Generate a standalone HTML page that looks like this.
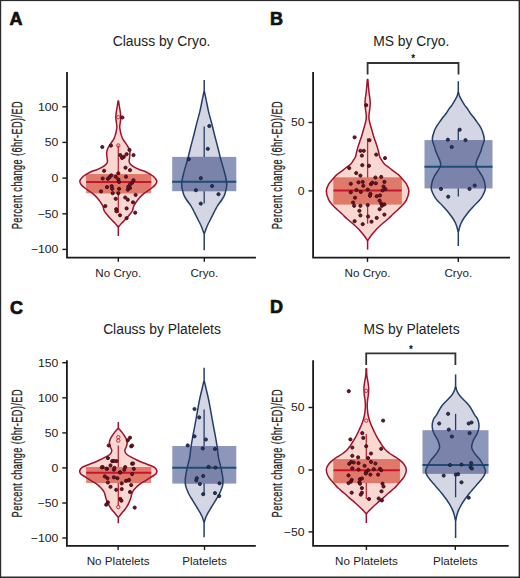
<!DOCTYPE html>
<html><head><meta charset="utf-8"><style>
html,body{margin:0;padding:0;background:#fff;}
body{width:520px;height:578px;overflow:hidden;}
svg{display:block;}
text{font-family:"Liberation Sans",sans-serif;fill:#222222;}
.lt{font-size:18px;font-weight:bold;fill:#111;stroke:#111;stroke-width:0.7px;}
.ti{font-size:13.85px;}
.tk{font-size:11px;}
.xl{font-size:11px;}
.yt{font-size:14px;stroke:#222;stroke-width:0.3px;}
.ast{font-size:10px;font-weight:bold;fill:#111;}
</style></head><body>
<svg width="520" height="578" viewBox="0 0 520 578">
<rect x="0" y="0" width="520" height="578" fill="#fff"/>

<text x="9.6" y="24.5" class="lt">A</text>
<text x="269.9" y="24.5" class="lt">B</text>
<text x="9.9" y="313.6" class="lt">C</text>
<text x="269.9" y="313.2" class="lt">D</text>
<text x="161.6" y="45.7" text-anchor="middle" class="ti">Clauss by Cryo.</text>
<text x="411.3" y="46.2" text-anchor="middle" class="ti">MS by Cryo.</text>
<text x="162" y="333.9" text-anchor="middle" class="ti">Clauss by Platelets</text>
<text x="411.5" y="334.2" text-anchor="middle" class="ti">MS by Platelets</text>

<path d="M67,72 V257.6 H255.9" fill="none" stroke="#1a1a1a" stroke-width="1.8"/>
<line x1="62.4" y1="106.8" x2="67" y2="106.8" stroke="#1a1a1a" stroke-width="1.4"/>
<text transform="translate(58.40,110.70) scale(1.11,1)" text-anchor="end" class="tk">100</text>
<line x1="62.4" y1="142.4" x2="67" y2="142.4" stroke="#1a1a1a" stroke-width="1.4"/>
<text transform="translate(58.40,146.30) scale(1.11,1)" text-anchor="end" class="tk">50</text>
<line x1="62.4" y1="178.1" x2="67" y2="178.1" stroke="#1a1a1a" stroke-width="1.4"/>
<text transform="translate(58.40,182.00) scale(1.11,1)" text-anchor="end" class="tk">0</text>
<line x1="62.4" y1="213.8" x2="67" y2="213.8" stroke="#1a1a1a" stroke-width="1.4"/>
<text transform="translate(58.40,217.70) scale(1.11,1)" text-anchor="end" class="tk">−50</text>
<line x1="62.4" y1="249.4" x2="67" y2="249.4" stroke="#1a1a1a" stroke-width="1.4"/>
<text transform="translate(58.40,253.30) scale(1.11,1)" text-anchor="end" class="tk">−100</text>
<line x1="118.3" y1="257.6" x2="118.3" y2="261.8" stroke="#1a1a1a" stroke-width="1.4"/>
<text transform="translate(118.3,276.70) scale(1.06,1)" text-anchor="middle" class="xl">No Cryo.</text>
<line x1="204.3" y1="257.6" x2="204.3" y2="261.8" stroke="#1a1a1a" stroke-width="1.4"/>
<text transform="translate(204.3,276.70) scale(1.06,1)" text-anchor="middle" class="xl">Cryo.</text>
<text transform="translate(21.9,165.2) rotate(-90) scale(0.66,1)" text-anchor="middle" class="yt" textLength="193.9" lengthAdjust="spacing">Percent change (6hr-ED)/ED</text>
<clipPath id="vc1"><path d="M118.60,101.00 C118.72,101.83 119.02,104.17 119.30,106.00 C119.58,107.83 120.05,110.17 120.30,112.00 C120.55,113.83 120.80,115.33 120.80,117.00 C120.80,118.67 120.48,120.38 120.30,122.00 C120.12,123.62 119.70,125.20 119.70,126.70 C119.70,128.20 120.03,129.62 120.30,131.00 C120.57,132.38 120.92,133.72 121.30,135.00 C121.68,136.28 122.02,137.53 122.60,138.70 C123.18,139.87 124.02,140.85 124.80,142.00 C125.58,143.15 126.58,144.43 127.30,145.60 C128.02,146.77 128.67,147.85 129.10,149.00 C129.53,150.15 129.80,151.17 129.90,152.50 C130.00,153.83 129.83,155.55 129.70,157.00 C129.57,158.45 129.00,160.03 129.10,161.20 C129.20,162.37 129.43,163.00 130.30,164.00 C131.17,165.00 132.80,166.28 134.30,167.20 C135.80,168.12 137.48,168.78 139.30,169.50 C141.12,170.22 143.45,170.75 145.20,171.50 C146.95,172.25 148.37,173.13 149.80,174.00 C151.23,174.87 152.63,175.53 153.80,176.70 C154.97,177.87 156.52,179.70 156.80,181.00 C157.08,182.30 156.33,183.33 155.50,184.50 C154.67,185.67 153.75,186.47 151.80,188.00 C149.85,189.53 145.88,192.03 143.80,193.70 C141.72,195.37 140.58,196.57 139.30,198.00 C138.02,199.43 137.02,200.97 136.10,202.30 C135.18,203.63 134.43,204.55 133.80,206.00 C133.17,207.45 133.05,209.50 132.30,211.00 C131.55,212.50 130.47,213.57 129.30,215.00 C128.13,216.43 126.55,218.27 125.30,219.60 C124.05,220.93 122.87,221.85 121.80,223.00 C120.73,224.15 119.38,225.92 118.90,226.50 L117.70,226.50 C117.22,225.92 115.87,224.15 114.80,223.00 C113.73,221.85 112.55,220.93 111.30,219.60 C110.05,218.27 108.47,216.43 107.30,215.00 C106.13,213.57 105.05,212.50 104.30,211.00 C103.55,209.50 103.43,207.45 102.80,206.00 C102.17,204.55 101.42,203.63 100.50,202.30 C99.58,200.97 98.58,199.43 97.30,198.00 C96.02,196.57 94.88,195.37 92.80,193.70 C90.72,192.03 86.75,189.53 84.80,188.00 C82.85,186.47 81.93,185.67 81.10,184.50 C80.27,183.33 79.52,182.30 79.80,181.00 C80.08,179.70 81.63,177.87 82.80,176.70 C83.97,175.53 85.37,174.87 86.80,174.00 C88.23,173.13 89.65,172.25 91.40,171.50 C93.15,170.75 95.48,170.22 97.30,169.50 C99.12,168.78 100.80,168.12 102.30,167.20 C103.80,166.28 105.43,165.00 106.30,164.00 C107.17,163.00 107.40,162.37 107.50,161.20 C107.60,160.03 107.03,158.45 106.90,157.00 C106.77,155.55 106.60,153.83 106.70,152.50 C106.80,151.17 107.07,150.15 107.50,149.00 C107.93,147.85 108.58,146.77 109.30,145.60 C110.02,144.43 111.02,143.15 111.80,142.00 C112.58,140.85 113.42,139.87 114.00,138.70 C114.58,137.53 114.92,136.28 115.30,135.00 C115.68,133.72 116.03,132.38 116.30,131.00 C116.57,129.62 116.90,128.20 116.90,126.70 C116.90,125.20 116.48,123.62 116.30,122.00 C116.12,120.38 115.80,118.67 115.80,117.00 C115.80,115.33 116.05,113.83 116.30,112.00 C116.55,110.17 117.02,107.83 117.30,106.00 C117.58,104.17 117.88,101.83 118.00,101.00 Z"/></clipPath>
<path d="M118.60,101.00 C118.72,101.83 119.02,104.17 119.30,106.00 C119.58,107.83 120.05,110.17 120.30,112.00 C120.55,113.83 120.80,115.33 120.80,117.00 C120.80,118.67 120.48,120.38 120.30,122.00 C120.12,123.62 119.70,125.20 119.70,126.70 C119.70,128.20 120.03,129.62 120.30,131.00 C120.57,132.38 120.92,133.72 121.30,135.00 C121.68,136.28 122.02,137.53 122.60,138.70 C123.18,139.87 124.02,140.85 124.80,142.00 C125.58,143.15 126.58,144.43 127.30,145.60 C128.02,146.77 128.67,147.85 129.10,149.00 C129.53,150.15 129.80,151.17 129.90,152.50 C130.00,153.83 129.83,155.55 129.70,157.00 C129.57,158.45 129.00,160.03 129.10,161.20 C129.20,162.37 129.43,163.00 130.30,164.00 C131.17,165.00 132.80,166.28 134.30,167.20 C135.80,168.12 137.48,168.78 139.30,169.50 C141.12,170.22 143.45,170.75 145.20,171.50 C146.95,172.25 148.37,173.13 149.80,174.00 C151.23,174.87 152.63,175.53 153.80,176.70 C154.97,177.87 156.52,179.70 156.80,181.00 C157.08,182.30 156.33,183.33 155.50,184.50 C154.67,185.67 153.75,186.47 151.80,188.00 C149.85,189.53 145.88,192.03 143.80,193.70 C141.72,195.37 140.58,196.57 139.30,198.00 C138.02,199.43 137.02,200.97 136.10,202.30 C135.18,203.63 134.43,204.55 133.80,206.00 C133.17,207.45 133.05,209.50 132.30,211.00 C131.55,212.50 130.47,213.57 129.30,215.00 C128.13,216.43 126.55,218.27 125.30,219.60 C124.05,220.93 122.87,221.85 121.80,223.00 C120.73,224.15 119.38,225.92 118.90,226.50 L117.70,226.50 C117.22,225.92 115.87,224.15 114.80,223.00 C113.73,221.85 112.55,220.93 111.30,219.60 C110.05,218.27 108.47,216.43 107.30,215.00 C106.13,213.57 105.05,212.50 104.30,211.00 C103.55,209.50 103.43,207.45 102.80,206.00 C102.17,204.55 101.42,203.63 100.50,202.30 C99.58,200.97 98.58,199.43 97.30,198.00 C96.02,196.57 94.88,195.37 92.80,193.70 C90.72,192.03 86.75,189.53 84.80,188.00 C82.85,186.47 81.93,185.67 81.10,184.50 C80.27,183.33 79.52,182.30 79.80,181.00 C80.08,179.70 81.63,177.87 82.80,176.70 C83.97,175.53 85.37,174.87 86.80,174.00 C88.23,173.13 89.65,172.25 91.40,171.50 C93.15,170.75 95.48,170.22 97.30,169.50 C99.12,168.78 100.80,168.12 102.30,167.20 C103.80,166.28 105.43,165.00 106.30,164.00 C107.17,163.00 107.40,162.37 107.50,161.20 C107.60,160.03 107.03,158.45 106.90,157.00 C106.77,155.55 106.60,153.83 106.70,152.50 C106.80,151.17 107.07,150.15 107.50,149.00 C107.93,147.85 108.58,146.77 109.30,145.60 C110.02,144.43 111.02,143.15 111.80,142.00 C112.58,140.85 113.42,139.87 114.00,138.70 C114.58,137.53 114.92,136.28 115.30,135.00 C115.68,133.72 116.03,132.38 116.30,131.00 C116.57,129.62 116.90,128.20 116.90,126.70 C116.90,125.20 116.48,123.62 116.30,122.00 C116.12,120.38 115.80,118.67 115.80,117.00 C115.80,115.33 116.05,113.83 116.30,112.00 C116.55,110.17 117.02,107.83 117.30,106.00 C117.58,104.17 117.88,101.83 118.00,101.00 Z" fill="#f8d8d0" stroke="none"/>
<rect x="86.2" y="174.2" width="65.00" height="19.10" fill="#e38b80"/>
<rect x="86.2" y="174.2" width="65.00" height="19.10" fill="#df7a6b" clip-path="url(#vc1)"/>
<line x1="118.3" y1="145.5" x2="118.3" y2="174.2" stroke="#c0283a" stroke-width="1.3"/>
<line x1="118.3" y1="193.3" x2="118.3" y2="212.7" stroke="#c0283a" stroke-width="1.3"/>
<line x1="86.2" y1="182.0" x2="151.2" y2="182.0" stroke="#c8142e" stroke-width="2"/>
<path d="M118.60,101.00 C118.72,101.83 119.02,104.17 119.30,106.00 C119.58,107.83 120.05,110.17 120.30,112.00 C120.55,113.83 120.80,115.33 120.80,117.00 C120.80,118.67 120.48,120.38 120.30,122.00 C120.12,123.62 119.70,125.20 119.70,126.70 C119.70,128.20 120.03,129.62 120.30,131.00 C120.57,132.38 120.92,133.72 121.30,135.00 C121.68,136.28 122.02,137.53 122.60,138.70 C123.18,139.87 124.02,140.85 124.80,142.00 C125.58,143.15 126.58,144.43 127.30,145.60 C128.02,146.77 128.67,147.85 129.10,149.00 C129.53,150.15 129.80,151.17 129.90,152.50 C130.00,153.83 129.83,155.55 129.70,157.00 C129.57,158.45 129.00,160.03 129.10,161.20 C129.20,162.37 129.43,163.00 130.30,164.00 C131.17,165.00 132.80,166.28 134.30,167.20 C135.80,168.12 137.48,168.78 139.30,169.50 C141.12,170.22 143.45,170.75 145.20,171.50 C146.95,172.25 148.37,173.13 149.80,174.00 C151.23,174.87 152.63,175.53 153.80,176.70 C154.97,177.87 156.52,179.70 156.80,181.00 C157.08,182.30 156.33,183.33 155.50,184.50 C154.67,185.67 153.75,186.47 151.80,188.00 C149.85,189.53 145.88,192.03 143.80,193.70 C141.72,195.37 140.58,196.57 139.30,198.00 C138.02,199.43 137.02,200.97 136.10,202.30 C135.18,203.63 134.43,204.55 133.80,206.00 C133.17,207.45 133.05,209.50 132.30,211.00 C131.55,212.50 130.47,213.57 129.30,215.00 C128.13,216.43 126.55,218.27 125.30,219.60 C124.05,220.93 122.87,221.85 121.80,223.00 C120.73,224.15 119.38,225.92 118.90,226.50 L117.70,226.50 C117.22,225.92 115.87,224.15 114.80,223.00 C113.73,221.85 112.55,220.93 111.30,219.60 C110.05,218.27 108.47,216.43 107.30,215.00 C106.13,213.57 105.05,212.50 104.30,211.00 C103.55,209.50 103.43,207.45 102.80,206.00 C102.17,204.55 101.42,203.63 100.50,202.30 C99.58,200.97 98.58,199.43 97.30,198.00 C96.02,196.57 94.88,195.37 92.80,193.70 C90.72,192.03 86.75,189.53 84.80,188.00 C82.85,186.47 81.93,185.67 81.10,184.50 C80.27,183.33 79.52,182.30 79.80,181.00 C80.08,179.70 81.63,177.87 82.80,176.70 C83.97,175.53 85.37,174.87 86.80,174.00 C88.23,173.13 89.65,172.25 91.40,171.50 C93.15,170.75 95.48,170.22 97.30,169.50 C99.12,168.78 100.80,168.12 102.30,167.20 C103.80,166.28 105.43,165.00 106.30,164.00 C107.17,163.00 107.40,162.37 107.50,161.20 C107.60,160.03 107.03,158.45 106.90,157.00 C106.77,155.55 106.60,153.83 106.70,152.50 C106.80,151.17 107.07,150.15 107.50,149.00 C107.93,147.85 108.58,146.77 109.30,145.60 C110.02,144.43 111.02,143.15 111.80,142.00 C112.58,140.85 113.42,139.87 114.00,138.70 C114.58,137.53 114.92,136.28 115.30,135.00 C115.68,133.72 116.03,132.38 116.30,131.00 C116.57,129.62 116.90,128.20 116.90,126.70 C116.90,125.20 116.48,123.62 116.30,122.00 C116.12,120.38 115.80,118.67 115.80,117.00 C115.80,115.33 116.05,113.83 116.30,112.00 C116.55,110.17 117.02,107.83 117.30,106.00 C117.58,104.17 117.88,101.83 118.00,101.00 Z" fill="none" stroke="#a0112e" stroke-width="1.5" stroke-linejoin="round"/>
<line x1="118.3" y1="226.5" x2="118.3" y2="236" stroke="#a0112e" stroke-width="1.5"/>
<circle cx="118.3" cy="145.5" r="1.7" fill="none" stroke="#c8142e" stroke-width="0.9"/>
<circle cx="118.3" cy="117.2" r="1.7" fill="none" stroke="#c8142e" stroke-width="0.9"/>
<circle cx="102.3" cy="147.0" r="1.6" fill="#6a1626" stroke="#3f0610" stroke-width="0.85"/>
<circle cx="111.0" cy="145.6" r="1.6" fill="#6a1626" stroke="#3f0610" stroke-width="0.85"/>
<circle cx="129.5" cy="149.9" r="1.6" fill="#6a1626" stroke="#3f0610" stroke-width="0.85"/>
<circle cx="133.5" cy="155.1" r="1.6" fill="#6a1626" stroke="#3f0610" stroke-width="0.85"/>
<circle cx="126.6" cy="154.2" r="1.6" fill="#6a1626" stroke="#3f0610" stroke-width="0.85"/>
<circle cx="123.8" cy="156.8" r="1.6" fill="#6a1626" stroke="#3f0610" stroke-width="0.85"/>
<circle cx="122.1" cy="158.0" r="1.6" fill="#6a1626" stroke="#3f0610" stroke-width="0.85"/>
<circle cx="120.3" cy="155.1" r="1.6" fill="#6a1626" stroke="#3f0610" stroke-width="0.85"/>
<circle cx="125.5" cy="167.7" r="1.6" fill="#6a1626" stroke="#3f0610" stroke-width="0.85"/>
<circle cx="130.0" cy="170.2" r="1.6" fill="#6a1626" stroke="#3f0610" stroke-width="0.85"/>
<circle cx="104.1" cy="170.8" r="1.6" fill="#6a1626" stroke="#3f0610" stroke-width="0.85"/>
<circle cx="118.3" cy="173.3" r="1.6" fill="#6a1626" stroke="#3f0610" stroke-width="0.85"/>
<circle cx="111.3" cy="175.3" r="1.6" fill="#6a1626" stroke="#3f0610" stroke-width="0.85"/>
<circle cx="115.7" cy="176.7" r="1.6" fill="#6a1626" stroke="#3f0610" stroke-width="0.85"/>
<circle cx="126.0" cy="176.7" r="1.6" fill="#6a1626" stroke="#3f0610" stroke-width="0.85"/>
<circle cx="102.7" cy="178.5" r="1.6" fill="#6a1626" stroke="#3f0610" stroke-width="0.85"/>
<circle cx="107.9" cy="178.8" r="1.6" fill="#6a1626" stroke="#3f0610" stroke-width="0.85"/>
<circle cx="109.6" cy="177.1" r="1.6" fill="#6a1626" stroke="#3f0610" stroke-width="0.85"/>
<circle cx="118.3" cy="179.3" r="1.6" fill="#6a1626" stroke="#3f0610" stroke-width="0.85"/>
<circle cx="119.1" cy="181.9" r="1.6" fill="#6a1626" stroke="#3f0610" stroke-width="0.85"/>
<circle cx="133.5" cy="180.2" r="1.6" fill="#6a1626" stroke="#3f0610" stroke-width="0.85"/>
<circle cx="132.1" cy="182.8" r="1.6" fill="#6a1626" stroke="#3f0610" stroke-width="0.85"/>
<circle cx="130.0" cy="184.5" r="1.6" fill="#6a1626" stroke="#3f0610" stroke-width="0.85"/>
<circle cx="127.8" cy="189.7" r="1.6" fill="#6a1626" stroke="#3f0610" stroke-width="0.85"/>
<circle cx="130.0" cy="188.0" r="1.6" fill="#6a1626" stroke="#3f0610" stroke-width="0.85"/>
<circle cx="107.0" cy="187.1" r="1.6" fill="#6a1626" stroke="#3f0610" stroke-width="0.85"/>
<circle cx="111.7" cy="186.2" r="1.6" fill="#6a1626" stroke="#3f0610" stroke-width="0.85"/>
<circle cx="112.2" cy="188.8" r="1.6" fill="#6a1626" stroke="#3f0610" stroke-width="0.85"/>
<circle cx="101.0" cy="191.4" r="1.6" fill="#6a1626" stroke="#3f0610" stroke-width="0.85"/>
<circle cx="119.1" cy="188.8" r="1.6" fill="#6a1626" stroke="#3f0610" stroke-width="0.85"/>
<circle cx="112.7" cy="193.2" r="1.6" fill="#6a1626" stroke="#3f0610" stroke-width="0.85"/>
<circle cx="135.6" cy="194.9" r="1.6" fill="#6a1626" stroke="#3f0610" stroke-width="0.85"/>
<circle cx="118.3" cy="193.2" r="1.6" fill="#6a1626" stroke="#3f0610" stroke-width="0.85"/>
<circle cx="115.7" cy="198.8" r="1.6" fill="#6a1626" stroke="#3f0610" stroke-width="0.85"/>
<circle cx="125.2" cy="197.5" r="1.6" fill="#6a1626" stroke="#3f0610" stroke-width="0.85"/>
<circle cx="127.8" cy="199.7" r="1.6" fill="#6a1626" stroke="#3f0610" stroke-width="0.85"/>
<circle cx="133.0" cy="202.3" r="1.6" fill="#6a1626" stroke="#3f0610" stroke-width="0.85"/>
<circle cx="105.3" cy="206.1" r="1.6" fill="#6a1626" stroke="#3f0610" stroke-width="0.85"/>
<circle cx="126.6" cy="208.4" r="1.6" fill="#6a1626" stroke="#3f0610" stroke-width="0.85"/>
<circle cx="116.2" cy="209.2" r="1.6" fill="#6a1626" stroke="#3f0610" stroke-width="0.85"/>
<circle cx="116.5" cy="211.3" r="1.6" fill="#6a1626" stroke="#3f0610" stroke-width="0.85"/>
<circle cx="120.0" cy="215.3" r="1.6" fill="#6a1626" stroke="#3f0610" stroke-width="0.85"/>
<circle cx="135.2" cy="212.7" r="1.6" fill="#6a1626" stroke="#3f0610" stroke-width="0.85"/>
<circle cx="126.6" cy="218.2" r="1.6" fill="#6a1626" stroke="#3f0610" stroke-width="0.85"/>
<circle cx="128.3" cy="186.7" r="1.6" fill="#6a1626" stroke="#3f0610" stroke-width="0.85"/>
<circle cx="122.4" cy="117.5" r="1.6" fill="#6a1626" stroke="#3f0610" stroke-width="0.85"/>
<clipPath id="vc2"><path d="M204.50,92.00 C204.75,93.20 205.33,95.98 206.00,99.20 C206.67,102.42 207.55,107.27 208.50,111.30 C209.45,115.33 210.67,119.37 211.70,123.40 C212.73,127.43 213.67,131.45 214.70,135.50 C215.73,139.55 216.87,143.65 217.90,147.70 C218.93,151.75 219.82,155.77 220.90,159.80 C221.98,163.83 223.42,167.87 224.40,171.90 C225.38,175.93 226.70,180.37 226.80,184.00 C226.90,187.63 225.85,191.03 225.00,193.70 C224.15,196.37 222.95,197.98 221.70,200.00 C220.45,202.02 218.58,204.13 217.50,205.80 C216.42,207.47 216.00,208.47 215.20,210.00 C214.40,211.53 213.53,213.33 212.70,215.00 C211.87,216.67 211.12,218.17 210.20,220.00 C209.28,221.83 208.13,223.83 207.20,226.00 C206.27,228.17 205.03,231.83 204.60,233.00 L203.80,233.00 C203.37,231.83 202.13,228.17 201.20,226.00 C200.27,223.83 199.12,221.83 198.20,220.00 C197.28,218.17 196.53,216.67 195.70,215.00 C194.87,213.33 194.00,211.53 193.20,210.00 C192.40,208.47 191.98,207.47 190.90,205.80 C189.82,204.13 187.95,202.02 186.70,200.00 C185.45,197.98 184.25,196.37 183.40,193.70 C182.55,191.03 181.50,187.63 181.60,184.00 C181.70,180.37 183.02,175.93 184.00,171.90 C184.98,167.87 186.42,163.83 187.50,159.80 C188.58,155.77 189.47,151.75 190.50,147.70 C191.53,143.65 192.67,139.55 193.70,135.50 C194.73,131.45 195.67,127.43 196.70,123.40 C197.73,119.37 198.95,115.33 199.90,111.30 C200.85,107.27 201.73,102.42 202.40,99.20 C203.07,95.98 203.65,93.20 203.90,92.00 Z"/></clipPath>
<path d="M204.50,92.00 C204.75,93.20 205.33,95.98 206.00,99.20 C206.67,102.42 207.55,107.27 208.50,111.30 C209.45,115.33 210.67,119.37 211.70,123.40 C212.73,127.43 213.67,131.45 214.70,135.50 C215.73,139.55 216.87,143.65 217.90,147.70 C218.93,151.75 219.82,155.77 220.90,159.80 C221.98,163.83 223.42,167.87 224.40,171.90 C225.38,175.93 226.70,180.37 226.80,184.00 C226.90,187.63 225.85,191.03 225.00,193.70 C224.15,196.37 222.95,197.98 221.70,200.00 C220.45,202.02 218.58,204.13 217.50,205.80 C216.42,207.47 216.00,208.47 215.20,210.00 C214.40,211.53 213.53,213.33 212.70,215.00 C211.87,216.67 211.12,218.17 210.20,220.00 C209.28,221.83 208.13,223.83 207.20,226.00 C206.27,228.17 205.03,231.83 204.60,233.00 L203.80,233.00 C203.37,231.83 202.13,228.17 201.20,226.00 C200.27,223.83 199.12,221.83 198.20,220.00 C197.28,218.17 196.53,216.67 195.70,215.00 C194.87,213.33 194.00,211.53 193.20,210.00 C192.40,208.47 191.98,207.47 190.90,205.80 C189.82,204.13 187.95,202.02 186.70,200.00 C185.45,197.98 184.25,196.37 183.40,193.70 C182.55,191.03 181.50,187.63 181.60,184.00 C181.70,180.37 183.02,175.93 184.00,171.90 C184.98,167.87 186.42,163.83 187.50,159.80 C188.58,155.77 189.47,151.75 190.50,147.70 C191.53,143.65 192.67,139.55 193.70,135.50 C194.73,131.45 195.67,127.43 196.70,123.40 C197.73,119.37 198.95,115.33 199.90,111.30 C200.85,107.27 201.73,102.42 202.40,99.20 C203.07,95.98 203.65,93.20 203.90,92.00 Z" fill="#d4d6e4" stroke="none"/>
<rect x="172.2" y="156.9" width="64.10" height="34.30" fill="#8d97ba"/>
<rect x="172.2" y="156.9" width="64.10" height="34.30" fill="#7b83ab" clip-path="url(#vc2)"/>
<line x1="204.2" y1="126.5" x2="204.2" y2="156.9" stroke="#243e68" stroke-width="1.3"/>
<line x1="204.2" y1="191.2" x2="204.2" y2="203.6" stroke="#243e68" stroke-width="1.3"/>
<line x1="172.2" y1="181.8" x2="236.3" y2="181.8" stroke="#1d4d74" stroke-width="2"/>
<path d="M204.50,92.00 C204.75,93.20 205.33,95.98 206.00,99.20 C206.67,102.42 207.55,107.27 208.50,111.30 C209.45,115.33 210.67,119.37 211.70,123.40 C212.73,127.43 213.67,131.45 214.70,135.50 C215.73,139.55 216.87,143.65 217.90,147.70 C218.93,151.75 219.82,155.77 220.90,159.80 C221.98,163.83 223.42,167.87 224.40,171.90 C225.38,175.93 226.70,180.37 226.80,184.00 C226.90,187.63 225.85,191.03 225.00,193.70 C224.15,196.37 222.95,197.98 221.70,200.00 C220.45,202.02 218.58,204.13 217.50,205.80 C216.42,207.47 216.00,208.47 215.20,210.00 C214.40,211.53 213.53,213.33 212.70,215.00 C211.87,216.67 211.12,218.17 210.20,220.00 C209.28,221.83 208.13,223.83 207.20,226.00 C206.27,228.17 205.03,231.83 204.60,233.00 L203.80,233.00 C203.37,231.83 202.13,228.17 201.20,226.00 C200.27,223.83 199.12,221.83 198.20,220.00 C197.28,218.17 196.53,216.67 195.70,215.00 C194.87,213.33 194.00,211.53 193.20,210.00 C192.40,208.47 191.98,207.47 190.90,205.80 C189.82,204.13 187.95,202.02 186.70,200.00 C185.45,197.98 184.25,196.37 183.40,193.70 C182.55,191.03 181.50,187.63 181.60,184.00 C181.70,180.37 183.02,175.93 184.00,171.90 C184.98,167.87 186.42,163.83 187.50,159.80 C188.58,155.77 189.47,151.75 190.50,147.70 C191.53,143.65 192.67,139.55 193.70,135.50 C194.73,131.45 195.67,127.43 196.70,123.40 C197.73,119.37 198.95,115.33 199.90,111.30 C200.85,107.27 201.73,102.42 202.40,99.20 C203.07,95.98 203.65,93.20 203.90,92.00 Z" fill="none" stroke="#243e68" stroke-width="1.5" stroke-linejoin="round"/>
<line x1="204.2" y1="80" x2="204.2" y2="92" stroke="#243e68" stroke-width="1.5"/>
<line x1="204.2" y1="233" x2="204.2" y2="250.2" stroke="#243e68" stroke-width="1.5"/>
<circle cx="209.3" cy="126.0" r="1.6" fill="#2a3658" stroke="#141d36" stroke-width="0.85"/>
<circle cx="207.8" cy="148.8" r="1.6" fill="#2a3658" stroke="#141d36" stroke-width="0.85"/>
<circle cx="188.8" cy="159.2" r="1.6" fill="#2a3658" stroke="#141d36" stroke-width="0.85"/>
<circle cx="200.8" cy="178.2" r="1.6" fill="#2a3658" stroke="#141d36" stroke-width="0.85"/>
<circle cx="212.1" cy="186.0" r="1.6" fill="#2a3658" stroke="#141d36" stroke-width="0.85"/>
<circle cx="195.9" cy="190.2" r="1.6" fill="#2a3658" stroke="#141d36" stroke-width="0.85"/>
<circle cx="218.5" cy="194.2" r="1.6" fill="#2a3658" stroke="#141d36" stroke-width="0.85"/>
<circle cx="200.8" cy="203.6" r="1.6" fill="#2a3658" stroke="#141d36" stroke-width="0.85"/>
<path d="M313.1,72 V257.7 H510" fill="none" stroke="#1a1a1a" stroke-width="1.8"/>
<line x1="308.5" y1="122.5" x2="313.1" y2="122.5" stroke="#1a1a1a" stroke-width="1.4"/>
<text transform="translate(304.50,126.40) scale(1.11,1)" text-anchor="end" class="tk">50</text>
<line x1="308.5" y1="190.9" x2="313.1" y2="190.9" stroke="#1a1a1a" stroke-width="1.4"/>
<text transform="translate(304.50,194.80) scale(1.11,1)" text-anchor="end" class="tk">0</text>
<line x1="367.5" y1="257.7" x2="367.5" y2="261.9" stroke="#1a1a1a" stroke-width="1.4"/>
<text transform="translate(367.5,276.80) scale(1.06,1)" text-anchor="middle" class="xl">No Cryo.</text>
<line x1="458.3" y1="257.7" x2="458.3" y2="261.9" stroke="#1a1a1a" stroke-width="1.4"/>
<text transform="translate(458.3,276.80) scale(1.06,1)" text-anchor="middle" class="xl">Cryo.</text>
<text transform="translate(282,165.2) rotate(-90) scale(0.66,1)" text-anchor="middle" class="yt" textLength="193.9" lengthAdjust="spacing">Percent change (6hr-ED)/ED</text>
<clipPath id="vc3"><path d="M367.90,79.60 C367.98,80.67 368.20,83.77 368.40,86.00 C368.60,88.23 368.85,90.87 369.10,93.00 C369.35,95.13 369.72,97.07 369.90,98.80 C370.08,100.53 370.22,101.78 370.20,103.40 C370.18,105.02 369.98,106.73 369.80,108.50 C369.62,110.27 369.25,112.42 369.10,114.00 C368.95,115.58 368.82,116.67 368.90,118.00 C368.98,119.33 369.32,120.70 369.60,122.00 C369.88,123.30 370.18,124.30 370.60,125.80 C371.02,127.30 371.55,129.08 372.10,131.00 C372.65,132.92 373.32,135.47 373.90,137.30 C374.48,139.13 375.05,140.40 375.60,142.00 C376.15,143.60 376.70,145.23 377.20,146.90 C377.70,148.57 378.20,150.40 378.60,152.00 C379.00,153.60 379.10,155.17 379.60,156.50 C380.10,157.83 380.77,158.72 381.60,160.00 C382.43,161.28 383.27,162.87 384.60,164.20 C385.93,165.53 387.93,166.72 389.60,168.00 C391.27,169.28 393.13,170.80 394.60,171.90 C396.07,173.00 397.15,173.47 398.40,174.60 C399.65,175.73 400.75,177.10 402.10,178.70 C403.45,180.30 405.37,182.15 406.50,184.20 C407.63,186.25 408.88,188.43 408.90,191.00 C408.92,193.57 407.57,197.35 406.60,199.60 C405.63,201.85 404.47,202.90 403.10,204.50 C401.73,206.10 400.07,207.62 398.40,209.20 C396.73,210.78 394.78,212.40 393.10,214.00 C391.42,215.60 390.05,217.22 388.30,218.80 C386.55,220.38 384.45,221.88 382.60,223.50 C380.75,225.12 378.70,227.00 377.20,228.50 C375.70,230.00 374.70,231.22 373.60,232.50 C372.50,233.78 371.52,234.95 370.60,236.20 C369.68,237.45 368.52,239.37 368.10,240.00 L367.10,240.00 C366.68,239.37 365.52,237.45 364.60,236.20 C363.68,234.95 362.70,233.78 361.60,232.50 C360.50,231.22 359.50,230.00 358.00,228.50 C356.50,227.00 354.45,225.12 352.60,223.50 C350.75,221.88 348.65,220.38 346.90,218.80 C345.15,217.22 343.78,215.60 342.10,214.00 C340.42,212.40 338.47,210.78 336.80,209.20 C335.13,207.62 333.47,206.10 332.10,204.50 C330.73,202.90 329.57,201.85 328.60,199.60 C327.63,197.35 326.28,193.57 326.30,191.00 C326.32,188.43 327.57,186.25 328.70,184.20 C329.83,182.15 331.75,180.30 333.10,178.70 C334.45,177.10 335.55,175.73 336.80,174.60 C338.05,173.47 339.13,173.00 340.60,171.90 C342.07,170.80 343.93,169.28 345.60,168.00 C347.27,166.72 349.27,165.53 350.60,164.20 C351.93,162.87 352.77,161.28 353.60,160.00 C354.43,158.72 355.10,157.83 355.60,156.50 C356.10,155.17 356.20,153.60 356.60,152.00 C357.00,150.40 357.50,148.57 358.00,146.90 C358.50,145.23 359.05,143.60 359.60,142.00 C360.15,140.40 360.72,139.13 361.30,137.30 C361.88,135.47 362.55,132.92 363.10,131.00 C363.65,129.08 364.18,127.30 364.60,125.80 C365.02,124.30 365.32,123.30 365.60,122.00 C365.88,120.70 366.22,119.33 366.30,118.00 C366.38,116.67 366.25,115.58 366.10,114.00 C365.95,112.42 365.58,110.27 365.40,108.50 C365.22,106.73 365.02,105.02 365.00,103.40 C364.98,101.78 365.12,100.53 365.30,98.80 C365.48,97.07 365.85,95.13 366.10,93.00 C366.35,90.87 366.60,88.23 366.80,86.00 C367.00,83.77 367.22,80.67 367.30,79.60 Z"/></clipPath>
<path d="M367.90,79.60 C367.98,80.67 368.20,83.77 368.40,86.00 C368.60,88.23 368.85,90.87 369.10,93.00 C369.35,95.13 369.72,97.07 369.90,98.80 C370.08,100.53 370.22,101.78 370.20,103.40 C370.18,105.02 369.98,106.73 369.80,108.50 C369.62,110.27 369.25,112.42 369.10,114.00 C368.95,115.58 368.82,116.67 368.90,118.00 C368.98,119.33 369.32,120.70 369.60,122.00 C369.88,123.30 370.18,124.30 370.60,125.80 C371.02,127.30 371.55,129.08 372.10,131.00 C372.65,132.92 373.32,135.47 373.90,137.30 C374.48,139.13 375.05,140.40 375.60,142.00 C376.15,143.60 376.70,145.23 377.20,146.90 C377.70,148.57 378.20,150.40 378.60,152.00 C379.00,153.60 379.10,155.17 379.60,156.50 C380.10,157.83 380.77,158.72 381.60,160.00 C382.43,161.28 383.27,162.87 384.60,164.20 C385.93,165.53 387.93,166.72 389.60,168.00 C391.27,169.28 393.13,170.80 394.60,171.90 C396.07,173.00 397.15,173.47 398.40,174.60 C399.65,175.73 400.75,177.10 402.10,178.70 C403.45,180.30 405.37,182.15 406.50,184.20 C407.63,186.25 408.88,188.43 408.90,191.00 C408.92,193.57 407.57,197.35 406.60,199.60 C405.63,201.85 404.47,202.90 403.10,204.50 C401.73,206.10 400.07,207.62 398.40,209.20 C396.73,210.78 394.78,212.40 393.10,214.00 C391.42,215.60 390.05,217.22 388.30,218.80 C386.55,220.38 384.45,221.88 382.60,223.50 C380.75,225.12 378.70,227.00 377.20,228.50 C375.70,230.00 374.70,231.22 373.60,232.50 C372.50,233.78 371.52,234.95 370.60,236.20 C369.68,237.45 368.52,239.37 368.10,240.00 L367.10,240.00 C366.68,239.37 365.52,237.45 364.60,236.20 C363.68,234.95 362.70,233.78 361.60,232.50 C360.50,231.22 359.50,230.00 358.00,228.50 C356.50,227.00 354.45,225.12 352.60,223.50 C350.75,221.88 348.65,220.38 346.90,218.80 C345.15,217.22 343.78,215.60 342.10,214.00 C340.42,212.40 338.47,210.78 336.80,209.20 C335.13,207.62 333.47,206.10 332.10,204.50 C330.73,202.90 329.57,201.85 328.60,199.60 C327.63,197.35 326.28,193.57 326.30,191.00 C326.32,188.43 327.57,186.25 328.70,184.20 C329.83,182.15 331.75,180.30 333.10,178.70 C334.45,177.10 335.55,175.73 336.80,174.60 C338.05,173.47 339.13,173.00 340.60,171.90 C342.07,170.80 343.93,169.28 345.60,168.00 C347.27,166.72 349.27,165.53 350.60,164.20 C351.93,162.87 352.77,161.28 353.60,160.00 C354.43,158.72 355.10,157.83 355.60,156.50 C356.10,155.17 356.20,153.60 356.60,152.00 C357.00,150.40 357.50,148.57 358.00,146.90 C358.50,145.23 359.05,143.60 359.60,142.00 C360.15,140.40 360.72,139.13 361.30,137.30 C361.88,135.47 362.55,132.92 363.10,131.00 C363.65,129.08 364.18,127.30 364.60,125.80 C365.02,124.30 365.32,123.30 365.60,122.00 C365.88,120.70 366.22,119.33 366.30,118.00 C366.38,116.67 366.25,115.58 366.10,114.00 C365.95,112.42 365.58,110.27 365.40,108.50 C365.22,106.73 365.02,105.02 365.00,103.40 C364.98,101.78 365.12,100.53 365.30,98.80 C365.48,97.07 365.85,95.13 366.10,93.00 C366.35,90.87 366.60,88.23 366.80,86.00 C367.00,83.77 367.22,80.67 367.30,79.60 Z" fill="#f8d8d0" stroke="none"/>
<rect x="333.5" y="177.5" width="68.20" height="26.90" fill="#e38b80"/>
<rect x="333.5" y="177.5" width="68.20" height="26.90" fill="#df7a6b" clip-path="url(#vc3)"/>
<line x1="367.6" y1="138.3" x2="367.6" y2="177.5" stroke="#c0283a" stroke-width="1.3"/>
<line x1="367.6" y1="204.4" x2="367.6" y2="223.7" stroke="#c0283a" stroke-width="1.3"/>
<line x1="333.5" y1="190.6" x2="401.7" y2="190.6" stroke="#c8142e" stroke-width="2"/>
<path d="M367.90,79.60 C367.98,80.67 368.20,83.77 368.40,86.00 C368.60,88.23 368.85,90.87 369.10,93.00 C369.35,95.13 369.72,97.07 369.90,98.80 C370.08,100.53 370.22,101.78 370.20,103.40 C370.18,105.02 369.98,106.73 369.80,108.50 C369.62,110.27 369.25,112.42 369.10,114.00 C368.95,115.58 368.82,116.67 368.90,118.00 C368.98,119.33 369.32,120.70 369.60,122.00 C369.88,123.30 370.18,124.30 370.60,125.80 C371.02,127.30 371.55,129.08 372.10,131.00 C372.65,132.92 373.32,135.47 373.90,137.30 C374.48,139.13 375.05,140.40 375.60,142.00 C376.15,143.60 376.70,145.23 377.20,146.90 C377.70,148.57 378.20,150.40 378.60,152.00 C379.00,153.60 379.10,155.17 379.60,156.50 C380.10,157.83 380.77,158.72 381.60,160.00 C382.43,161.28 383.27,162.87 384.60,164.20 C385.93,165.53 387.93,166.72 389.60,168.00 C391.27,169.28 393.13,170.80 394.60,171.90 C396.07,173.00 397.15,173.47 398.40,174.60 C399.65,175.73 400.75,177.10 402.10,178.70 C403.45,180.30 405.37,182.15 406.50,184.20 C407.63,186.25 408.88,188.43 408.90,191.00 C408.92,193.57 407.57,197.35 406.60,199.60 C405.63,201.85 404.47,202.90 403.10,204.50 C401.73,206.10 400.07,207.62 398.40,209.20 C396.73,210.78 394.78,212.40 393.10,214.00 C391.42,215.60 390.05,217.22 388.30,218.80 C386.55,220.38 384.45,221.88 382.60,223.50 C380.75,225.12 378.70,227.00 377.20,228.50 C375.70,230.00 374.70,231.22 373.60,232.50 C372.50,233.78 371.52,234.95 370.60,236.20 C369.68,237.45 368.52,239.37 368.10,240.00 L367.10,240.00 C366.68,239.37 365.52,237.45 364.60,236.20 C363.68,234.95 362.70,233.78 361.60,232.50 C360.50,231.22 359.50,230.00 358.00,228.50 C356.50,227.00 354.45,225.12 352.60,223.50 C350.75,221.88 348.65,220.38 346.90,218.80 C345.15,217.22 343.78,215.60 342.10,214.00 C340.42,212.40 338.47,210.78 336.80,209.20 C335.13,207.62 333.47,206.10 332.10,204.50 C330.73,202.90 329.57,201.85 328.60,199.60 C327.63,197.35 326.28,193.57 326.30,191.00 C326.32,188.43 327.57,186.25 328.70,184.20 C329.83,182.15 331.75,180.30 333.10,178.70 C334.45,177.10 335.55,175.73 336.80,174.60 C338.05,173.47 339.13,173.00 340.60,171.90 C342.07,170.80 343.93,169.28 345.60,168.00 C347.27,166.72 349.27,165.53 350.60,164.20 C351.93,162.87 352.77,161.28 353.60,160.00 C354.43,158.72 355.10,157.83 355.60,156.50 C356.10,155.17 356.20,153.60 356.60,152.00 C357.00,150.40 357.50,148.57 358.00,146.90 C358.50,145.23 359.05,143.60 359.60,142.00 C360.15,140.40 360.72,139.13 361.30,137.30 C361.88,135.47 362.55,132.92 363.10,131.00 C363.65,129.08 364.18,127.30 364.60,125.80 C365.02,124.30 365.32,123.30 365.60,122.00 C365.88,120.70 366.22,119.33 366.30,118.00 C366.38,116.67 366.25,115.58 366.10,114.00 C365.95,112.42 365.58,110.27 365.40,108.50 C365.22,106.73 365.02,105.02 365.00,103.40 C364.98,101.78 365.12,100.53 365.30,98.80 C365.48,97.07 365.85,95.13 366.10,93.00 C366.35,90.87 366.60,88.23 366.80,86.00 C367.00,83.77 367.22,80.67 367.30,79.60 Z" fill="none" stroke="#a0112e" stroke-width="1.5" stroke-linejoin="round"/>
<line x1="367.6" y1="240" x2="367.6" y2="249.6" stroke="#a0112e" stroke-width="1.5"/>
<circle cx="366.2" cy="105.2" r="1.6" fill="#6a1626" stroke="#3f0610" stroke-width="0.85"/>
<circle cx="354.6" cy="137.3" r="1.6" fill="#6a1626" stroke="#3f0610" stroke-width="0.85"/>
<circle cx="369.4" cy="140.2" r="1.6" fill="#6a1626" stroke="#3f0610" stroke-width="0.85"/>
<circle cx="360.4" cy="150.8" r="1.6" fill="#6a1626" stroke="#3f0610" stroke-width="0.85"/>
<circle cx="363.8" cy="150.8" r="1.6" fill="#6a1626" stroke="#3f0610" stroke-width="0.85"/>
<circle cx="361.9" cy="155.6" r="1.6" fill="#6a1626" stroke="#3f0610" stroke-width="0.85"/>
<circle cx="376.2" cy="154.6" r="1.6" fill="#6a1626" stroke="#3f0610" stroke-width="0.85"/>
<circle cx="385.0" cy="158.1" r="1.6" fill="#6a1626" stroke="#3f0610" stroke-width="0.85"/>
<circle cx="362.3" cy="165.2" r="1.6" fill="#6a1626" stroke="#3f0610" stroke-width="0.85"/>
<circle cx="369.0" cy="165.8" r="1.6" fill="#6a1626" stroke="#3f0610" stroke-width="0.85"/>
<circle cx="349.2" cy="168.1" r="1.6" fill="#6a1626" stroke="#3f0610" stroke-width="0.85"/>
<circle cx="356.2" cy="173.1" r="1.6" fill="#6a1626" stroke="#3f0610" stroke-width="0.85"/>
<circle cx="360.4" cy="175.6" r="1.6" fill="#6a1626" stroke="#3f0610" stroke-width="0.85"/>
<circle cx="375.4" cy="177.5" r="1.6" fill="#6a1626" stroke="#3f0610" stroke-width="0.85"/>
<circle cx="381.2" cy="176.9" r="1.6" fill="#6a1626" stroke="#3f0610" stroke-width="0.85"/>
<circle cx="350.8" cy="183.8" r="1.6" fill="#6a1626" stroke="#3f0610" stroke-width="0.85"/>
<circle cx="358.5" cy="182.3" r="1.6" fill="#6a1626" stroke="#3f0610" stroke-width="0.85"/>
<circle cx="362.7" cy="181.9" r="1.6" fill="#6a1626" stroke="#3f0610" stroke-width="0.85"/>
<circle cx="363.3" cy="185.8" r="1.6" fill="#6a1626" stroke="#3f0610" stroke-width="0.85"/>
<circle cx="371.0" cy="184.2" r="1.6" fill="#6a1626" stroke="#3f0610" stroke-width="0.85"/>
<circle cx="372.3" cy="182.7" r="1.6" fill="#6a1626" stroke="#3f0610" stroke-width="0.85"/>
<circle cx="375.8" cy="183.3" r="1.6" fill="#6a1626" stroke="#3f0610" stroke-width="0.85"/>
<circle cx="384.4" cy="181.9" r="1.6" fill="#6a1626" stroke="#3f0610" stroke-width="0.85"/>
<circle cx="383.5" cy="186.5" r="1.6" fill="#6a1626" stroke="#3f0610" stroke-width="0.85"/>
<circle cx="385.4" cy="189.0" r="1.6" fill="#6a1626" stroke="#3f0610" stroke-width="0.85"/>
<circle cx="350.8" cy="192.3" r="1.6" fill="#6a1626" stroke="#3f0610" stroke-width="0.85"/>
<circle cx="356.5" cy="190.0" r="1.6" fill="#6a1626" stroke="#3f0610" stroke-width="0.85"/>
<circle cx="360.8" cy="191.9" r="1.6" fill="#6a1626" stroke="#3f0610" stroke-width="0.85"/>
<circle cx="367.7" cy="189.6" r="1.6" fill="#6a1626" stroke="#3f0610" stroke-width="0.85"/>
<circle cx="370.4" cy="193.8" r="1.6" fill="#6a1626" stroke="#3f0610" stroke-width="0.85"/>
<circle cx="370.0" cy="195.8" r="1.6" fill="#6a1626" stroke="#3f0610" stroke-width="0.85"/>
<circle cx="376.7" cy="196.2" r="1.6" fill="#6a1626" stroke="#3f0610" stroke-width="0.85"/>
<circle cx="380.0" cy="195.4" r="1.6" fill="#6a1626" stroke="#3f0610" stroke-width="0.85"/>
<circle cx="382.5" cy="190.4" r="1.6" fill="#6a1626" stroke="#3f0610" stroke-width="0.85"/>
<circle cx="355.0" cy="197.7" r="1.6" fill="#6a1626" stroke="#3f0610" stroke-width="0.85"/>
<circle cx="353.1" cy="202.5" r="1.6" fill="#6a1626" stroke="#3f0610" stroke-width="0.85"/>
<circle cx="354.2" cy="205.8" r="1.6" fill="#6a1626" stroke="#3f0610" stroke-width="0.85"/>
<circle cx="360.4" cy="205.8" r="1.6" fill="#6a1626" stroke="#3f0610" stroke-width="0.85"/>
<circle cx="367.7" cy="205.0" r="1.6" fill="#6a1626" stroke="#3f0610" stroke-width="0.85"/>
<circle cx="379.6" cy="200.6" r="1.6" fill="#6a1626" stroke="#3f0610" stroke-width="0.85"/>
<circle cx="381.2" cy="203.5" r="1.6" fill="#6a1626" stroke="#3f0610" stroke-width="0.85"/>
<circle cx="381.9" cy="205.8" r="1.6" fill="#6a1626" stroke="#3f0610" stroke-width="0.85"/>
<circle cx="384.4" cy="204.4" r="1.6" fill="#6a1626" stroke="#3f0610" stroke-width="0.85"/>
<circle cx="359.4" cy="210.8" r="1.6" fill="#6a1626" stroke="#3f0610" stroke-width="0.85"/>
<circle cx="360.4" cy="215.4" r="1.6" fill="#6a1626" stroke="#3f0610" stroke-width="0.85"/>
<circle cx="379.6" cy="209.2" r="1.6" fill="#6a1626" stroke="#3f0610" stroke-width="0.85"/>
<circle cx="384.4" cy="214.6" r="1.6" fill="#6a1626" stroke="#3f0610" stroke-width="0.85"/>
<circle cx="368.1" cy="216.5" r="1.6" fill="#6a1626" stroke="#3f0610" stroke-width="0.85"/>
<circle cx="354.6" cy="221.2" r="1.6" fill="#6a1626" stroke="#3f0610" stroke-width="0.85"/>
<circle cx="371.5" cy="221.7" r="1.6" fill="#6a1626" stroke="#3f0610" stroke-width="0.85"/>
<circle cx="376.7" cy="217.9" r="1.6" fill="#6a1626" stroke="#3f0610" stroke-width="0.85"/>
<circle cx="362.7" cy="224.2" r="1.6" fill="#6a1626" stroke="#3f0610" stroke-width="0.85"/>
<clipPath id="vc4"><path d="M458.60,92.50 C458.75,93.08 459.07,94.85 459.50,96.00 C459.93,97.15 460.40,97.97 461.20,99.40 C462.00,100.83 463.28,103.08 464.30,104.60 C465.32,106.12 466.30,107.05 467.30,108.50 C468.30,109.95 469.22,111.80 470.30,113.30 C471.38,114.80 472.70,116.07 473.80,117.50 C474.90,118.93 475.90,120.48 476.90,121.90 C477.90,123.32 478.93,124.55 479.80,126.00 C480.67,127.45 481.35,128.40 482.10,130.60 C482.85,132.80 484.37,136.32 484.30,139.20 C484.23,142.08 482.20,146.10 481.70,147.90 C481.20,149.70 481.82,148.57 481.30,150.00 C480.78,151.43 479.35,154.75 478.60,156.50 C477.85,158.25 477.25,159.13 476.80,160.50 C476.35,161.87 475.82,163.37 475.90,164.70 C475.98,166.03 476.63,167.20 477.30,168.50 C477.97,169.80 479.07,171.17 479.90,172.50 C480.73,173.83 481.57,175.05 482.30,176.50 C483.03,177.95 483.80,179.13 484.30,181.20 C484.80,183.27 485.67,186.32 485.30,188.90 C484.93,191.48 483.18,194.68 482.10,196.70 C481.02,198.72 480.10,199.55 478.80,201.00 C477.50,202.45 475.67,203.98 474.30,205.40 C472.93,206.82 471.82,208.07 470.60,209.50 C469.38,210.93 468.10,212.58 467.00,214.00 C465.90,215.42 464.95,216.55 464.00,218.00 C463.05,219.45 462.02,221.20 461.30,222.70 C460.58,224.20 460.15,225.57 459.70,227.00 C459.25,228.43 458.78,230.58 458.60,231.30 L458.00,231.30 C457.82,230.58 457.35,228.43 456.90,227.00 C456.45,225.57 456.02,224.20 455.30,222.70 C454.58,221.20 453.55,219.45 452.60,218.00 C451.65,216.55 450.70,215.42 449.60,214.00 C448.50,212.58 447.22,210.93 446.00,209.50 C444.78,208.07 443.67,206.82 442.30,205.40 C440.93,203.98 439.10,202.45 437.80,201.00 C436.50,199.55 435.58,198.72 434.50,196.70 C433.42,194.68 431.67,191.48 431.30,188.90 C430.93,186.32 431.80,183.27 432.30,181.20 C432.80,179.13 433.57,177.95 434.30,176.50 C435.03,175.05 435.87,173.83 436.70,172.50 C437.53,171.17 438.63,169.80 439.30,168.50 C439.97,167.20 440.62,166.03 440.70,164.70 C440.78,163.37 440.25,161.87 439.80,160.50 C439.35,159.13 438.75,158.25 438.00,156.50 C437.25,154.75 435.82,151.43 435.30,150.00 C434.78,148.57 435.40,149.70 434.90,147.90 C434.40,146.10 432.37,142.08 432.30,139.20 C432.23,136.32 433.75,132.80 434.50,130.60 C435.25,128.40 435.93,127.45 436.80,126.00 C437.67,124.55 438.70,123.32 439.70,121.90 C440.70,120.48 441.70,118.93 442.80,117.50 C443.90,116.07 445.22,114.80 446.30,113.30 C447.38,111.80 448.30,109.95 449.30,108.50 C450.30,107.05 451.28,106.12 452.30,104.60 C453.32,103.08 454.60,100.83 455.40,99.40 C456.20,97.97 456.67,97.15 457.10,96.00 C457.53,94.85 457.85,93.08 458.00,92.50 Z"/></clipPath>
<path d="M458.60,92.50 C458.75,93.08 459.07,94.85 459.50,96.00 C459.93,97.15 460.40,97.97 461.20,99.40 C462.00,100.83 463.28,103.08 464.30,104.60 C465.32,106.12 466.30,107.05 467.30,108.50 C468.30,109.95 469.22,111.80 470.30,113.30 C471.38,114.80 472.70,116.07 473.80,117.50 C474.90,118.93 475.90,120.48 476.90,121.90 C477.90,123.32 478.93,124.55 479.80,126.00 C480.67,127.45 481.35,128.40 482.10,130.60 C482.85,132.80 484.37,136.32 484.30,139.20 C484.23,142.08 482.20,146.10 481.70,147.90 C481.20,149.70 481.82,148.57 481.30,150.00 C480.78,151.43 479.35,154.75 478.60,156.50 C477.85,158.25 477.25,159.13 476.80,160.50 C476.35,161.87 475.82,163.37 475.90,164.70 C475.98,166.03 476.63,167.20 477.30,168.50 C477.97,169.80 479.07,171.17 479.90,172.50 C480.73,173.83 481.57,175.05 482.30,176.50 C483.03,177.95 483.80,179.13 484.30,181.20 C484.80,183.27 485.67,186.32 485.30,188.90 C484.93,191.48 483.18,194.68 482.10,196.70 C481.02,198.72 480.10,199.55 478.80,201.00 C477.50,202.45 475.67,203.98 474.30,205.40 C472.93,206.82 471.82,208.07 470.60,209.50 C469.38,210.93 468.10,212.58 467.00,214.00 C465.90,215.42 464.95,216.55 464.00,218.00 C463.05,219.45 462.02,221.20 461.30,222.70 C460.58,224.20 460.15,225.57 459.70,227.00 C459.25,228.43 458.78,230.58 458.60,231.30 L458.00,231.30 C457.82,230.58 457.35,228.43 456.90,227.00 C456.45,225.57 456.02,224.20 455.30,222.70 C454.58,221.20 453.55,219.45 452.60,218.00 C451.65,216.55 450.70,215.42 449.60,214.00 C448.50,212.58 447.22,210.93 446.00,209.50 C444.78,208.07 443.67,206.82 442.30,205.40 C440.93,203.98 439.10,202.45 437.80,201.00 C436.50,199.55 435.58,198.72 434.50,196.70 C433.42,194.68 431.67,191.48 431.30,188.90 C430.93,186.32 431.80,183.27 432.30,181.20 C432.80,179.13 433.57,177.95 434.30,176.50 C435.03,175.05 435.87,173.83 436.70,172.50 C437.53,171.17 438.63,169.80 439.30,168.50 C439.97,167.20 440.62,166.03 440.70,164.70 C440.78,163.37 440.25,161.87 439.80,160.50 C439.35,159.13 438.75,158.25 438.00,156.50 C437.25,154.75 435.82,151.43 435.30,150.00 C434.78,148.57 435.40,149.70 434.90,147.90 C434.40,146.10 432.37,142.08 432.30,139.20 C432.23,136.32 433.75,132.80 434.50,130.60 C435.25,128.40 435.93,127.45 436.80,126.00 C437.67,124.55 438.70,123.32 439.70,121.90 C440.70,120.48 441.70,118.93 442.80,117.50 C443.90,116.07 445.22,114.80 446.30,113.30 C447.38,111.80 448.30,109.95 449.30,108.50 C450.30,107.05 451.28,106.12 452.30,104.60 C453.32,103.08 454.60,100.83 455.40,99.40 C456.20,97.97 456.67,97.15 457.10,96.00 C457.53,94.85 457.85,93.08 458.00,92.50 Z" fill="#d4d6e4" stroke="none"/>
<rect x="424.5" y="140.1" width="68.00" height="48.30" fill="#8d97ba"/>
<rect x="424.5" y="140.1" width="68.00" height="48.30" fill="#7b83ab" clip-path="url(#vc4)"/>
<line x1="458.3" y1="130" x2="458.3" y2="140.1" stroke="#243e68" stroke-width="1.3"/>
<line x1="458.3" y1="188.4" x2="458.3" y2="196.4" stroke="#243e68" stroke-width="1.3"/>
<line x1="424.5" y1="166.8" x2="492.5" y2="166.8" stroke="#1d4d74" stroke-width="2"/>
<path d="M458.60,92.50 C458.75,93.08 459.07,94.85 459.50,96.00 C459.93,97.15 460.40,97.97 461.20,99.40 C462.00,100.83 463.28,103.08 464.30,104.60 C465.32,106.12 466.30,107.05 467.30,108.50 C468.30,109.95 469.22,111.80 470.30,113.30 C471.38,114.80 472.70,116.07 473.80,117.50 C474.90,118.93 475.90,120.48 476.90,121.90 C477.90,123.32 478.93,124.55 479.80,126.00 C480.67,127.45 481.35,128.40 482.10,130.60 C482.85,132.80 484.37,136.32 484.30,139.20 C484.23,142.08 482.20,146.10 481.70,147.90 C481.20,149.70 481.82,148.57 481.30,150.00 C480.78,151.43 479.35,154.75 478.60,156.50 C477.85,158.25 477.25,159.13 476.80,160.50 C476.35,161.87 475.82,163.37 475.90,164.70 C475.98,166.03 476.63,167.20 477.30,168.50 C477.97,169.80 479.07,171.17 479.90,172.50 C480.73,173.83 481.57,175.05 482.30,176.50 C483.03,177.95 483.80,179.13 484.30,181.20 C484.80,183.27 485.67,186.32 485.30,188.90 C484.93,191.48 483.18,194.68 482.10,196.70 C481.02,198.72 480.10,199.55 478.80,201.00 C477.50,202.45 475.67,203.98 474.30,205.40 C472.93,206.82 471.82,208.07 470.60,209.50 C469.38,210.93 468.10,212.58 467.00,214.00 C465.90,215.42 464.95,216.55 464.00,218.00 C463.05,219.45 462.02,221.20 461.30,222.70 C460.58,224.20 460.15,225.57 459.70,227.00 C459.25,228.43 458.78,230.58 458.60,231.30 L458.00,231.30 C457.82,230.58 457.35,228.43 456.90,227.00 C456.45,225.57 456.02,224.20 455.30,222.70 C454.58,221.20 453.55,219.45 452.60,218.00 C451.65,216.55 450.70,215.42 449.60,214.00 C448.50,212.58 447.22,210.93 446.00,209.50 C444.78,208.07 443.67,206.82 442.30,205.40 C440.93,203.98 439.10,202.45 437.80,201.00 C436.50,199.55 435.58,198.72 434.50,196.70 C433.42,194.68 431.67,191.48 431.30,188.90 C430.93,186.32 431.80,183.27 432.30,181.20 C432.80,179.13 433.57,177.95 434.30,176.50 C435.03,175.05 435.87,173.83 436.70,172.50 C437.53,171.17 438.63,169.80 439.30,168.50 C439.97,167.20 440.62,166.03 440.70,164.70 C440.78,163.37 440.25,161.87 439.80,160.50 C439.35,159.13 438.75,158.25 438.00,156.50 C437.25,154.75 435.82,151.43 435.30,150.00 C434.78,148.57 435.40,149.70 434.90,147.90 C434.40,146.10 432.37,142.08 432.30,139.20 C432.23,136.32 433.75,132.80 434.50,130.60 C435.25,128.40 435.93,127.45 436.80,126.00 C437.67,124.55 438.70,123.32 439.70,121.90 C440.70,120.48 441.70,118.93 442.80,117.50 C443.90,116.07 445.22,114.80 446.30,113.30 C447.38,111.80 448.30,109.95 449.30,108.50 C450.30,107.05 451.28,106.12 452.30,104.60 C453.32,103.08 454.60,100.83 455.40,99.40 C456.20,97.97 456.67,97.15 457.10,96.00 C457.53,94.85 457.85,93.08 458.00,92.50 Z" fill="none" stroke="#243e68" stroke-width="1.5" stroke-linejoin="round"/>
<line x1="458.3" y1="81.2" x2="458.3" y2="92.5" stroke="#243e68" stroke-width="1.5"/>
<line x1="458.3" y1="231.3" x2="458.3" y2="246" stroke="#243e68" stroke-width="1.5"/>
<circle cx="459.7" cy="129.7" r="1.6" fill="#2a3658" stroke="#141d36" stroke-width="0.85"/>
<circle cx="447.9" cy="139.7" r="1.6" fill="#2a3658" stroke="#141d36" stroke-width="0.85"/>
<circle cx="465.5" cy="140.1" r="1.6" fill="#2a3658" stroke="#141d36" stroke-width="0.85"/>
<circle cx="451.7" cy="147.0" r="1.6" fill="#2a3658" stroke="#141d36" stroke-width="0.85"/>
<circle cx="441.0" cy="188.9" r="1.6" fill="#2a3658" stroke="#141d36" stroke-width="0.85"/>
<circle cx="448.2" cy="196.7" r="1.6" fill="#2a3658" stroke="#141d36" stroke-width="0.85"/>
<circle cx="469.5" cy="188.9" r="1.6" fill="#2a3658" stroke="#141d36" stroke-width="0.85"/>
<circle cx="474.7" cy="185.5" r="1.6" fill="#2a3658" stroke="#141d36" stroke-width="0.85"/>
<path d="M367.6,74.6 V63 H458.5 V74.6" fill="none" stroke="#333" stroke-width="1.8"/>
<text x="413.2" y="62.3" text-anchor="middle" class="ast">*</text>
<path d="M66.9,360.2 V545.8 H255.8" fill="none" stroke="#1a1a1a" stroke-width="1.8"/>
<line x1="62.300000000000004" y1="362.7" x2="66.9" y2="362.7" stroke="#1a1a1a" stroke-width="1.4"/>
<text transform="translate(58.30,366.60) scale(1.11,1)" text-anchor="end" class="tk">150</text>
<line x1="62.300000000000004" y1="397.8" x2="66.9" y2="397.8" stroke="#1a1a1a" stroke-width="1.4"/>
<text transform="translate(58.30,401.70) scale(1.11,1)" text-anchor="end" class="tk">100</text>
<line x1="62.300000000000004" y1="432.9" x2="66.9" y2="432.9" stroke="#1a1a1a" stroke-width="1.4"/>
<text transform="translate(58.30,436.80) scale(1.11,1)" text-anchor="end" class="tk">50</text>
<line x1="62.300000000000004" y1="467.9" x2="66.9" y2="467.9" stroke="#1a1a1a" stroke-width="1.4"/>
<text transform="translate(58.30,471.80) scale(1.11,1)" text-anchor="end" class="tk">0</text>
<line x1="62.300000000000004" y1="503" x2="66.9" y2="503" stroke="#1a1a1a" stroke-width="1.4"/>
<text transform="translate(58.30,506.90) scale(1.11,1)" text-anchor="end" class="tk">−50</text>
<line x1="62.300000000000004" y1="538" x2="66.9" y2="538" stroke="#1a1a1a" stroke-width="1.4"/>
<text transform="translate(58.30,541.90) scale(1.11,1)" text-anchor="end" class="tk">−100</text>
<line x1="118.1" y1="545.8" x2="118.1" y2="550.0" stroke="#1a1a1a" stroke-width="1.4"/>
<text transform="translate(118.1,564.90) scale(1.06,1)" text-anchor="middle" class="xl">No Platelets</text>
<line x1="204.5" y1="545.8" x2="204.5" y2="550.0" stroke="#1a1a1a" stroke-width="1.4"/>
<text transform="translate(204.5,564.90) scale(1.06,1)" text-anchor="middle" class="xl">Platelets</text>
<text transform="translate(21.9,453.4) rotate(-90) scale(0.66,1)" text-anchor="middle" class="yt" textLength="193.9" lengthAdjust="spacing">Percent change (6hr-ED)/ED</text>
<clipPath id="vc5"><path d="M118.70,428.60 C119.25,429.23 120.90,430.97 122.00,432.40 C123.10,433.83 124.43,435.60 125.30,437.20 C126.17,438.80 127.03,440.40 127.20,442.00 C127.37,443.60 126.70,445.35 126.30,446.80 C125.90,448.25 124.70,449.42 124.80,450.70 C124.90,451.98 125.73,453.38 126.90,454.50 C128.07,455.62 130.02,456.43 131.80,457.40 C133.58,458.37 135.93,459.50 137.60,460.30 C139.27,461.10 140.02,461.47 141.80,462.20 C143.58,462.93 146.23,463.88 148.30,464.70 C150.37,465.52 152.78,466.13 154.20,467.10 C155.62,468.07 156.53,469.35 156.80,470.50 C157.07,471.65 156.80,472.87 155.80,474.00 C154.80,475.13 152.55,476.17 150.80,477.30 C149.05,478.43 147.12,479.65 145.30,480.80 C143.48,481.95 141.48,483.05 139.90,484.20 C138.32,485.35 136.95,486.53 135.80,487.70 C134.65,488.87 133.70,490.05 133.00,491.20 C132.30,492.35 131.97,493.45 131.60,494.60 C131.23,495.75 131.22,496.80 130.80,498.10 C130.38,499.40 129.75,500.97 129.10,502.40 C128.45,503.83 127.70,505.40 126.90,506.70 C126.10,508.00 125.23,509.03 124.30,510.20 C123.37,511.37 122.23,512.55 121.30,513.70 C120.37,514.85 119.13,516.53 118.70,517.10 L117.90,517.10 C117.47,516.53 116.23,514.85 115.30,513.70 C114.37,512.55 113.23,511.37 112.30,510.20 C111.37,509.03 110.50,508.00 109.70,506.70 C108.90,505.40 108.15,503.83 107.50,502.40 C106.85,500.97 106.22,499.40 105.80,498.10 C105.38,496.80 105.37,495.75 105.00,494.60 C104.63,493.45 104.30,492.35 103.60,491.20 C102.90,490.05 101.95,488.87 100.80,487.70 C99.65,486.53 98.28,485.35 96.70,484.20 C95.12,483.05 93.12,481.95 91.30,480.80 C89.48,479.65 87.55,478.43 85.80,477.30 C84.05,476.17 81.80,475.13 80.80,474.00 C79.80,472.87 79.53,471.65 79.80,470.50 C80.07,469.35 80.98,468.07 82.40,467.10 C83.82,466.13 86.23,465.52 88.30,464.70 C90.37,463.88 93.02,462.93 94.80,462.20 C96.58,461.47 97.33,461.10 99.00,460.30 C100.67,459.50 103.02,458.37 104.80,457.40 C106.58,456.43 108.53,455.62 109.70,454.50 C110.87,453.38 111.70,451.98 111.80,450.70 C111.90,449.42 110.70,448.25 110.30,446.80 C109.90,445.35 109.23,443.60 109.40,442.00 C109.57,440.40 110.43,438.80 111.30,437.20 C112.17,435.60 113.50,433.83 114.60,432.40 C115.70,430.97 117.35,429.23 117.90,428.60 Z"/></clipPath>
<path d="M118.70,428.60 C119.25,429.23 120.90,430.97 122.00,432.40 C123.10,433.83 124.43,435.60 125.30,437.20 C126.17,438.80 127.03,440.40 127.20,442.00 C127.37,443.60 126.70,445.35 126.30,446.80 C125.90,448.25 124.70,449.42 124.80,450.70 C124.90,451.98 125.73,453.38 126.90,454.50 C128.07,455.62 130.02,456.43 131.80,457.40 C133.58,458.37 135.93,459.50 137.60,460.30 C139.27,461.10 140.02,461.47 141.80,462.20 C143.58,462.93 146.23,463.88 148.30,464.70 C150.37,465.52 152.78,466.13 154.20,467.10 C155.62,468.07 156.53,469.35 156.80,470.50 C157.07,471.65 156.80,472.87 155.80,474.00 C154.80,475.13 152.55,476.17 150.80,477.30 C149.05,478.43 147.12,479.65 145.30,480.80 C143.48,481.95 141.48,483.05 139.90,484.20 C138.32,485.35 136.95,486.53 135.80,487.70 C134.65,488.87 133.70,490.05 133.00,491.20 C132.30,492.35 131.97,493.45 131.60,494.60 C131.23,495.75 131.22,496.80 130.80,498.10 C130.38,499.40 129.75,500.97 129.10,502.40 C128.45,503.83 127.70,505.40 126.90,506.70 C126.10,508.00 125.23,509.03 124.30,510.20 C123.37,511.37 122.23,512.55 121.30,513.70 C120.37,514.85 119.13,516.53 118.70,517.10 L117.90,517.10 C117.47,516.53 116.23,514.85 115.30,513.70 C114.37,512.55 113.23,511.37 112.30,510.20 C111.37,509.03 110.50,508.00 109.70,506.70 C108.90,505.40 108.15,503.83 107.50,502.40 C106.85,500.97 106.22,499.40 105.80,498.10 C105.38,496.80 105.37,495.75 105.00,494.60 C104.63,493.45 104.30,492.35 103.60,491.20 C102.90,490.05 101.95,488.87 100.80,487.70 C99.65,486.53 98.28,485.35 96.70,484.20 C95.12,483.05 93.12,481.95 91.30,480.80 C89.48,479.65 87.55,478.43 85.80,477.30 C84.05,476.17 81.80,475.13 80.80,474.00 C79.80,472.87 79.53,471.65 79.80,470.50 C80.07,469.35 80.98,468.07 82.40,467.10 C83.82,466.13 86.23,465.52 88.30,464.70 C90.37,463.88 93.02,462.93 94.80,462.20 C96.58,461.47 97.33,461.10 99.00,460.30 C100.67,459.50 103.02,458.37 104.80,457.40 C106.58,456.43 108.53,455.62 109.70,454.50 C110.87,453.38 111.70,451.98 111.80,450.70 C111.90,449.42 110.70,448.25 110.30,446.80 C109.90,445.35 109.23,443.60 109.40,442.00 C109.57,440.40 110.43,438.80 111.30,437.20 C112.17,435.60 113.50,433.83 114.60,432.40 C115.70,430.97 117.35,429.23 117.90,428.60 Z" fill="#f8d8d0" stroke="none"/>
<rect x="86.2" y="467.1" width="65.00" height="15.90" fill="#e38b80"/>
<rect x="86.2" y="467.1" width="65.00" height="15.90" fill="#df7a6b" clip-path="url(#vc5)"/>
<line x1="118.3" y1="445.5" x2="118.3" y2="467.1" stroke="#c0283a" stroke-width="1.3"/>
<line x1="118.3" y1="483.0" x2="118.3" y2="505.5" stroke="#c0283a" stroke-width="1.3"/>
<line x1="86.2" y1="472.7" x2="151.2" y2="472.7" stroke="#c8142e" stroke-width="2"/>
<path d="M118.70,428.60 C119.25,429.23 120.90,430.97 122.00,432.40 C123.10,433.83 124.43,435.60 125.30,437.20 C126.17,438.80 127.03,440.40 127.20,442.00 C127.37,443.60 126.70,445.35 126.30,446.80 C125.90,448.25 124.70,449.42 124.80,450.70 C124.90,451.98 125.73,453.38 126.90,454.50 C128.07,455.62 130.02,456.43 131.80,457.40 C133.58,458.37 135.93,459.50 137.60,460.30 C139.27,461.10 140.02,461.47 141.80,462.20 C143.58,462.93 146.23,463.88 148.30,464.70 C150.37,465.52 152.78,466.13 154.20,467.10 C155.62,468.07 156.53,469.35 156.80,470.50 C157.07,471.65 156.80,472.87 155.80,474.00 C154.80,475.13 152.55,476.17 150.80,477.30 C149.05,478.43 147.12,479.65 145.30,480.80 C143.48,481.95 141.48,483.05 139.90,484.20 C138.32,485.35 136.95,486.53 135.80,487.70 C134.65,488.87 133.70,490.05 133.00,491.20 C132.30,492.35 131.97,493.45 131.60,494.60 C131.23,495.75 131.22,496.80 130.80,498.10 C130.38,499.40 129.75,500.97 129.10,502.40 C128.45,503.83 127.70,505.40 126.90,506.70 C126.10,508.00 125.23,509.03 124.30,510.20 C123.37,511.37 122.23,512.55 121.30,513.70 C120.37,514.85 119.13,516.53 118.70,517.10 L117.90,517.10 C117.47,516.53 116.23,514.85 115.30,513.70 C114.37,512.55 113.23,511.37 112.30,510.20 C111.37,509.03 110.50,508.00 109.70,506.70 C108.90,505.40 108.15,503.83 107.50,502.40 C106.85,500.97 106.22,499.40 105.80,498.10 C105.38,496.80 105.37,495.75 105.00,494.60 C104.63,493.45 104.30,492.35 103.60,491.20 C102.90,490.05 101.95,488.87 100.80,487.70 C99.65,486.53 98.28,485.35 96.70,484.20 C95.12,483.05 93.12,481.95 91.30,480.80 C89.48,479.65 87.55,478.43 85.80,477.30 C84.05,476.17 81.80,475.13 80.80,474.00 C79.80,472.87 79.53,471.65 79.80,470.50 C80.07,469.35 80.98,468.07 82.40,467.10 C83.82,466.13 86.23,465.52 88.30,464.70 C90.37,463.88 93.02,462.93 94.80,462.20 C96.58,461.47 97.33,461.10 99.00,460.30 C100.67,459.50 103.02,458.37 104.80,457.40 C106.58,456.43 108.53,455.62 109.70,454.50 C110.87,453.38 111.70,451.98 111.80,450.70 C111.90,449.42 110.70,448.25 110.30,446.80 C109.90,445.35 109.23,443.60 109.40,442.00 C109.57,440.40 110.43,438.80 111.30,437.20 C112.17,435.60 113.50,433.83 114.60,432.40 C115.70,430.97 117.35,429.23 117.90,428.60 Z" fill="none" stroke="#a0112e" stroke-width="1.5" stroke-linejoin="round"/>
<line x1="118.3" y1="422" x2="118.3" y2="428.6" stroke="#a0112e" stroke-width="1.5"/>
<line x1="118.3" y1="517.1" x2="118.3" y2="523.2" stroke="#a0112e" stroke-width="1.5"/>
<circle cx="118.3" cy="437.2" r="1.7" fill="none" stroke="#c8142e" stroke-width="0.9"/>
<circle cx="118.3" cy="440.6" r="1.7" fill="none" stroke="#c8142e" stroke-width="0.9"/>
<circle cx="118.3" cy="507.1" r="1.7" fill="none" stroke="#c8142e" stroke-width="0.9"/>
<circle cx="108.7" cy="445.5" r="1.6" fill="#6a1626" stroke="#3f0610" stroke-width="0.85"/>
<circle cx="130.0" cy="437.7" r="1.6" fill="#6a1626" stroke="#3f0610" stroke-width="0.85"/>
<circle cx="127.8" cy="440.3" r="1.6" fill="#6a1626" stroke="#3f0610" stroke-width="0.85"/>
<circle cx="131.2" cy="446.3" r="1.6" fill="#6a1626" stroke="#3f0610" stroke-width="0.85"/>
<circle cx="132.1" cy="445.5" r="1.6" fill="#6a1626" stroke="#3f0610" stroke-width="0.85"/>
<circle cx="107.9" cy="458.1" r="1.6" fill="#6a1626" stroke="#3f0610" stroke-width="0.85"/>
<circle cx="112.2" cy="461.1" r="1.6" fill="#6a1626" stroke="#3f0610" stroke-width="0.85"/>
<circle cx="116.5" cy="461.1" r="1.6" fill="#6a1626" stroke="#3f0610" stroke-width="0.85"/>
<circle cx="110.5" cy="465.4" r="1.6" fill="#6a1626" stroke="#3f0610" stroke-width="0.85"/>
<circle cx="102.7" cy="467.1" r="1.6" fill="#6a1626" stroke="#3f0610" stroke-width="0.85"/>
<circle cx="107.0" cy="468.8" r="1.6" fill="#6a1626" stroke="#3f0610" stroke-width="0.85"/>
<circle cx="113.9" cy="469.7" r="1.6" fill="#6a1626" stroke="#3f0610" stroke-width="0.85"/>
<circle cx="125.2" cy="467.1" r="1.6" fill="#6a1626" stroke="#3f0610" stroke-width="0.85"/>
<circle cx="124.3" cy="469.7" r="1.6" fill="#6a1626" stroke="#3f0610" stroke-width="0.85"/>
<circle cx="132.1" cy="463.7" r="1.6" fill="#6a1626" stroke="#3f0610" stroke-width="0.85"/>
<circle cx="133.8" cy="468.8" r="1.6" fill="#6a1626" stroke="#3f0610" stroke-width="0.85"/>
<circle cx="120.0" cy="472.3" r="1.6" fill="#6a1626" stroke="#3f0610" stroke-width="0.85"/>
<circle cx="132.1" cy="474.0" r="1.6" fill="#6a1626" stroke="#3f0610" stroke-width="0.85"/>
<circle cx="101.8" cy="467.3" r="1.6" fill="#6a1626" stroke="#3f0610" stroke-width="0.85"/>
<circle cx="106.5" cy="468.7" r="1.6" fill="#6a1626" stroke="#3f0610" stroke-width="0.85"/>
<circle cx="114.5" cy="467.8" r="1.6" fill="#6a1626" stroke="#3f0610" stroke-width="0.85"/>
<circle cx="133.0" cy="463.5" r="1.6" fill="#6a1626" stroke="#3f0610" stroke-width="0.85"/>
<circle cx="120.3" cy="472.5" r="1.6" fill="#6a1626" stroke="#3f0610" stroke-width="0.85"/>
<circle cx="104.8" cy="476.4" r="1.6" fill="#6a1626" stroke="#3f0610" stroke-width="0.85"/>
<circle cx="107.5" cy="478.2" r="1.6" fill="#6a1626" stroke="#3f0610" stroke-width="0.85"/>
<circle cx="113.9" cy="477.3" r="1.6" fill="#6a1626" stroke="#3f0610" stroke-width="0.85"/>
<circle cx="117.4" cy="478.2" r="1.6" fill="#6a1626" stroke="#3f0610" stroke-width="0.85"/>
<circle cx="107.9" cy="482.5" r="1.6" fill="#6a1626" stroke="#3f0610" stroke-width="0.85"/>
<circle cx="121.7" cy="483.4" r="1.6" fill="#6a1626" stroke="#3f0610" stroke-width="0.85"/>
<circle cx="126.1" cy="480.8" r="1.6" fill="#6a1626" stroke="#3f0610" stroke-width="0.85"/>
<circle cx="129.0" cy="479.9" r="1.6" fill="#6a1626" stroke="#3f0610" stroke-width="0.85"/>
<circle cx="131.2" cy="485.1" r="1.6" fill="#6a1626" stroke="#3f0610" stroke-width="0.85"/>
<circle cx="110.5" cy="486.8" r="1.6" fill="#6a1626" stroke="#3f0610" stroke-width="0.85"/>
<circle cx="116.2" cy="489.8" r="1.6" fill="#6a1626" stroke="#3f0610" stroke-width="0.85"/>
<circle cx="121.7" cy="489.1" r="1.6" fill="#6a1626" stroke="#3f0610" stroke-width="0.85"/>
<circle cx="130.0" cy="492.0" r="1.6" fill="#6a1626" stroke="#3f0610" stroke-width="0.85"/>
<circle cx="120.3" cy="498.9" r="1.6" fill="#6a1626" stroke="#3f0610" stroke-width="0.85"/>
<circle cx="121.4" cy="500.7" r="1.6" fill="#6a1626" stroke="#3f0610" stroke-width="0.85"/>
<circle cx="107.9" cy="502.4" r="1.6" fill="#6a1626" stroke="#3f0610" stroke-width="0.85"/>
<circle cx="106.2" cy="504.7" r="1.6" fill="#6a1626" stroke="#3f0610" stroke-width="0.85"/>
<circle cx="134.7" cy="507.6" r="1.6" fill="#6a1626" stroke="#3f0610" stroke-width="0.85"/>
<circle cx="114.0" cy="461.0" r="1.6" fill="#6a1626" stroke="#3f0610" stroke-width="0.85"/>
<clipPath id="vc6"><path d="M204.40,381.40 C204.73,382.83 205.70,386.98 206.40,390.00 C207.10,393.02 207.95,396.42 208.60,399.50 C209.25,402.58 209.75,405.47 210.30,408.50 C210.85,411.53 211.35,414.65 211.90,417.70 C212.45,420.75 213.03,423.77 213.60,426.80 C214.17,429.83 214.70,432.57 215.30,435.90 C215.90,439.23 216.65,443.08 217.20,446.80 C217.75,450.52 217.98,454.78 218.60,458.20 C219.22,461.62 220.23,464.27 220.90,467.30 C221.57,470.33 222.25,474.12 222.60,476.40 C222.95,478.68 223.00,479.48 223.00,481.00 C223.00,482.52 222.92,484.00 222.60,485.50 C222.28,487.00 221.68,488.50 221.10,490.00 C220.52,491.50 219.88,493.00 219.10,494.50 C218.32,496.00 217.32,497.48 216.40,499.00 C215.48,500.52 214.52,502.10 213.60,503.60 C212.68,505.10 211.82,506.48 210.90,508.00 C209.98,509.52 208.93,511.20 208.10,512.70 C207.27,514.20 206.52,515.48 205.90,517.00 C205.28,518.52 204.65,521.00 204.40,521.80 L203.80,521.80 C203.55,521.00 202.92,518.52 202.30,517.00 C201.68,515.48 200.93,514.20 200.10,512.70 C199.27,511.20 198.22,509.52 197.30,508.00 C196.38,506.48 195.52,505.10 194.60,503.60 C193.68,502.10 192.72,500.52 191.80,499.00 C190.88,497.48 189.88,496.00 189.10,494.50 C188.32,493.00 187.68,491.50 187.10,490.00 C186.52,488.50 185.92,487.00 185.60,485.50 C185.28,484.00 185.20,482.52 185.20,481.00 C185.20,479.48 185.25,478.68 185.60,476.40 C185.95,474.12 186.63,470.33 187.30,467.30 C187.97,464.27 188.98,461.62 189.60,458.20 C190.22,454.78 190.45,450.52 191.00,446.80 C191.55,443.08 192.30,439.23 192.90,435.90 C193.50,432.57 194.03,429.83 194.60,426.80 C195.17,423.77 195.75,420.75 196.30,417.70 C196.85,414.65 197.35,411.53 197.90,408.50 C198.45,405.47 198.95,402.58 199.60,399.50 C200.25,396.42 201.10,393.02 201.80,390.00 C202.50,386.98 203.47,382.83 203.80,381.40 Z"/></clipPath>
<path d="M204.40,381.40 C204.73,382.83 205.70,386.98 206.40,390.00 C207.10,393.02 207.95,396.42 208.60,399.50 C209.25,402.58 209.75,405.47 210.30,408.50 C210.85,411.53 211.35,414.65 211.90,417.70 C212.45,420.75 213.03,423.77 213.60,426.80 C214.17,429.83 214.70,432.57 215.30,435.90 C215.90,439.23 216.65,443.08 217.20,446.80 C217.75,450.52 217.98,454.78 218.60,458.20 C219.22,461.62 220.23,464.27 220.90,467.30 C221.57,470.33 222.25,474.12 222.60,476.40 C222.95,478.68 223.00,479.48 223.00,481.00 C223.00,482.52 222.92,484.00 222.60,485.50 C222.28,487.00 221.68,488.50 221.10,490.00 C220.52,491.50 219.88,493.00 219.10,494.50 C218.32,496.00 217.32,497.48 216.40,499.00 C215.48,500.52 214.52,502.10 213.60,503.60 C212.68,505.10 211.82,506.48 210.90,508.00 C209.98,509.52 208.93,511.20 208.10,512.70 C207.27,514.20 206.52,515.48 205.90,517.00 C205.28,518.52 204.65,521.00 204.40,521.80 L203.80,521.80 C203.55,521.00 202.92,518.52 202.30,517.00 C201.68,515.48 200.93,514.20 200.10,512.70 C199.27,511.20 198.22,509.52 197.30,508.00 C196.38,506.48 195.52,505.10 194.60,503.60 C193.68,502.10 192.72,500.52 191.80,499.00 C190.88,497.48 189.88,496.00 189.10,494.50 C188.32,493.00 187.68,491.50 187.10,490.00 C186.52,488.50 185.92,487.00 185.60,485.50 C185.28,484.00 185.20,482.52 185.20,481.00 C185.20,479.48 185.25,478.68 185.60,476.40 C185.95,474.12 186.63,470.33 187.30,467.30 C187.97,464.27 188.98,461.62 189.60,458.20 C190.22,454.78 190.45,450.52 191.00,446.80 C191.55,443.08 192.30,439.23 192.90,435.90 C193.50,432.57 194.03,429.83 194.60,426.80 C195.17,423.77 195.75,420.75 196.30,417.70 C196.85,414.65 197.35,411.53 197.90,408.50 C198.45,405.47 198.95,402.58 199.60,399.50 C200.25,396.42 201.10,393.02 201.80,390.00 C202.50,386.98 203.47,382.83 203.80,381.40 Z" fill="#d4d6e4" stroke="none"/>
<rect x="172.3" y="446" width="64.00" height="37.60" fill="#8d97ba"/>
<rect x="172.3" y="446" width="64.00" height="37.60" fill="#7b83ab" clip-path="url(#vc6)"/>
<line x1="204.1" y1="409.5" x2="204.1" y2="446" stroke="#243e68" stroke-width="1.3"/>
<line x1="204.1" y1="483.6" x2="204.1" y2="494.2" stroke="#243e68" stroke-width="1.3"/>
<line x1="172.3" y1="467.8" x2="236.3" y2="467.8" stroke="#1d4d74" stroke-width="2"/>
<path d="M204.40,381.40 C204.73,382.83 205.70,386.98 206.40,390.00 C207.10,393.02 207.95,396.42 208.60,399.50 C209.25,402.58 209.75,405.47 210.30,408.50 C210.85,411.53 211.35,414.65 211.90,417.70 C212.45,420.75 213.03,423.77 213.60,426.80 C214.17,429.83 214.70,432.57 215.30,435.90 C215.90,439.23 216.65,443.08 217.20,446.80 C217.75,450.52 217.98,454.78 218.60,458.20 C219.22,461.62 220.23,464.27 220.90,467.30 C221.57,470.33 222.25,474.12 222.60,476.40 C222.95,478.68 223.00,479.48 223.00,481.00 C223.00,482.52 222.92,484.00 222.60,485.50 C222.28,487.00 221.68,488.50 221.10,490.00 C220.52,491.50 219.88,493.00 219.10,494.50 C218.32,496.00 217.32,497.48 216.40,499.00 C215.48,500.52 214.52,502.10 213.60,503.60 C212.68,505.10 211.82,506.48 210.90,508.00 C209.98,509.52 208.93,511.20 208.10,512.70 C207.27,514.20 206.52,515.48 205.90,517.00 C205.28,518.52 204.65,521.00 204.40,521.80 L203.80,521.80 C203.55,521.00 202.92,518.52 202.30,517.00 C201.68,515.48 200.93,514.20 200.10,512.70 C199.27,511.20 198.22,509.52 197.30,508.00 C196.38,506.48 195.52,505.10 194.60,503.60 C193.68,502.10 192.72,500.52 191.80,499.00 C190.88,497.48 189.88,496.00 189.10,494.50 C188.32,493.00 187.68,491.50 187.10,490.00 C186.52,488.50 185.92,487.00 185.60,485.50 C185.28,484.00 185.20,482.52 185.20,481.00 C185.20,479.48 185.25,478.68 185.60,476.40 C185.95,474.12 186.63,470.33 187.30,467.30 C187.97,464.27 188.98,461.62 189.60,458.20 C190.22,454.78 190.45,450.52 191.00,446.80 C191.55,443.08 192.30,439.23 192.90,435.90 C193.50,432.57 194.03,429.83 194.60,426.80 C195.17,423.77 195.75,420.75 196.30,417.70 C196.85,414.65 197.35,411.53 197.90,408.50 C198.45,405.47 198.95,402.58 199.60,399.50 C200.25,396.42 201.10,393.02 201.80,390.00 C202.50,386.98 203.47,382.83 203.80,381.40 Z" fill="none" stroke="#243e68" stroke-width="1.5" stroke-linejoin="round"/>
<line x1="204.1" y1="367.7" x2="204.1" y2="381.4" stroke="#243e68" stroke-width="1.5"/>
<line x1="204.1" y1="521.8" x2="204.1" y2="537.3" stroke="#243e68" stroke-width="1.5"/>
<circle cx="194.5" cy="409.0" r="1.6" fill="#2a3658" stroke="#141d36" stroke-width="0.85"/>
<circle cx="199.2" cy="417.4" r="1.6" fill="#2a3658" stroke="#141d36" stroke-width="0.85"/>
<circle cx="194.5" cy="436.3" r="1.6" fill="#2a3658" stroke="#141d36" stroke-width="0.85"/>
<circle cx="205.9" cy="439.5" r="1.6" fill="#2a3658" stroke="#141d36" stroke-width="0.85"/>
<circle cx="187.7" cy="445.4" r="1.6" fill="#2a3658" stroke="#141d36" stroke-width="0.85"/>
<circle cx="202.8" cy="448.4" r="1.6" fill="#2a3658" stroke="#141d36" stroke-width="0.85"/>
<circle cx="215.0" cy="449.0" r="1.6" fill="#2a3658" stroke="#141d36" stroke-width="0.85"/>
<circle cx="208.6" cy="466.9" r="1.6" fill="#2a3658" stroke="#141d36" stroke-width="0.85"/>
<circle cx="215.5" cy="467.6" r="1.6" fill="#2a3658" stroke="#141d36" stroke-width="0.85"/>
<circle cx="203.2" cy="476.0" r="1.6" fill="#2a3658" stroke="#141d36" stroke-width="0.85"/>
<circle cx="196.8" cy="478.2" r="1.6" fill="#2a3658" stroke="#141d36" stroke-width="0.85"/>
<circle cx="196.3" cy="480.4" r="1.6" fill="#2a3658" stroke="#141d36" stroke-width="0.85"/>
<circle cx="199.9" cy="484.0" r="1.6" fill="#2a3658" stroke="#141d36" stroke-width="0.85"/>
<circle cx="219.5" cy="483.3" r="1.6" fill="#2a3658" stroke="#141d36" stroke-width="0.85"/>
<circle cx="203.2" cy="494.2" r="1.6" fill="#2a3658" stroke="#141d36" stroke-width="0.85"/>
<circle cx="215.0" cy="493.1" r="1.6" fill="#2a3658" stroke="#141d36" stroke-width="0.85"/>
<circle cx="219.2" cy="496.0" r="1.6" fill="#2a3658" stroke="#141d36" stroke-width="0.85"/>
<path d="M313.1,360.2 V545.8 H508.7" fill="none" stroke="#1a1a1a" stroke-width="1.8"/>
<line x1="308.5" y1="407.5" x2="313.1" y2="407.5" stroke="#1a1a1a" stroke-width="1.4"/>
<text transform="translate(304.50,411.40) scale(1.11,1)" text-anchor="end" class="tk">50</text>
<line x1="308.5" y1="470" x2="313.1" y2="470" stroke="#1a1a1a" stroke-width="1.4"/>
<text transform="translate(304.50,473.90) scale(1.11,1)" text-anchor="end" class="tk">0</text>
<line x1="308.5" y1="531.9" x2="313.1" y2="531.9" stroke="#1a1a1a" stroke-width="1.4"/>
<text transform="translate(304.50,535.80) scale(1.11,1)" text-anchor="end" class="tk">−50</text>
<line x1="366.4" y1="545.8" x2="366.4" y2="550.0" stroke="#1a1a1a" stroke-width="1.4"/>
<text transform="translate(366.4,564.90) scale(1.06,1)" text-anchor="middle" class="xl">No Platelets</text>
<line x1="455.3" y1="545.8" x2="455.3" y2="550.0" stroke="#1a1a1a" stroke-width="1.4"/>
<text transform="translate(455.3,564.90) scale(1.06,1)" text-anchor="middle" class="xl">Platelets</text>
<text transform="translate(282,453.4) rotate(-90) scale(0.66,1)" text-anchor="middle" class="yt" textLength="193.9" lengthAdjust="spacing">Percent change (6hr-ED)/ED</text>
<clipPath id="vc7"><path d="M366.60,368.70 C366.61,369.42 366.57,371.57 366.65,373.00 C366.73,374.43 366.86,375.63 367.10,377.30 C367.34,378.97 367.83,381.08 368.10,383.00 C368.37,384.92 368.67,386.80 368.70,388.80 C368.73,390.80 368.48,393.13 368.30,395.00 C368.12,396.87 367.78,398.30 367.60,400.00 C367.42,401.70 367.22,403.53 367.20,405.20 C367.18,406.87 367.35,408.37 367.50,410.00 C367.65,411.63 367.67,412.97 368.10,415.00 C368.53,417.03 369.25,419.80 370.10,422.20 C370.95,424.60 372.10,427.00 373.20,429.40 C374.30,431.80 375.38,434.20 376.70,436.60 C378.02,439.00 380.00,442.07 381.10,443.80 C382.20,445.53 382.53,445.97 383.30,447.00 C384.07,448.03 384.62,448.92 385.70,450.00 C386.78,451.08 388.20,452.35 389.80,453.50 C391.40,454.65 393.58,455.75 395.30,456.90 C397.02,458.05 398.72,459.25 400.10,460.40 C401.48,461.55 402.67,462.65 403.60,463.80 C404.53,464.95 405.27,466.15 405.70,467.30 C406.13,468.45 406.27,469.55 406.20,470.70 C406.13,471.85 405.73,473.05 405.30,474.20 C404.87,475.35 404.35,476.45 403.60,477.60 C402.85,478.75 401.78,479.93 400.80,481.10 C399.82,482.27 398.75,483.45 397.70,484.60 C396.65,485.75 396.07,486.55 394.50,488.00 C392.93,489.45 390.20,491.62 388.30,493.30 C386.40,494.98 384.93,496.48 383.10,498.10 C381.27,499.72 379.13,501.40 377.30,503.00 C375.47,504.60 373.52,506.37 372.10,507.70 C370.68,509.03 369.70,510.03 368.80,511.00 C367.90,511.97 367.05,513.08 366.70,513.50 L365.90,513.50 C365.55,513.08 364.70,511.97 363.80,511.00 C362.90,510.03 361.92,509.03 360.50,507.70 C359.08,506.37 357.13,504.60 355.30,503.00 C353.47,501.40 351.33,499.72 349.50,498.10 C347.67,496.48 346.20,494.98 344.30,493.30 C342.40,491.62 339.67,489.45 338.10,488.00 C336.53,486.55 335.95,485.75 334.90,484.60 C333.85,483.45 332.78,482.27 331.80,481.10 C330.82,479.93 329.75,478.75 329.00,477.60 C328.25,476.45 327.73,475.35 327.30,474.20 C326.87,473.05 326.47,471.85 326.40,470.70 C326.33,469.55 326.47,468.45 326.90,467.30 C327.33,466.15 328.07,464.95 329.00,463.80 C329.93,462.65 331.12,461.55 332.50,460.40 C333.88,459.25 335.58,458.05 337.30,456.90 C339.02,455.75 341.20,454.65 342.80,453.50 C344.40,452.35 345.82,451.08 346.90,450.00 C347.98,448.92 348.53,448.03 349.30,447.00 C350.07,445.97 350.40,445.53 351.50,443.80 C352.60,442.07 354.58,439.00 355.90,436.60 C357.22,434.20 358.30,431.80 359.40,429.40 C360.50,427.00 361.65,424.60 362.50,422.20 C363.35,419.80 364.07,417.03 364.50,415.00 C364.93,412.97 364.95,411.63 365.10,410.00 C365.25,408.37 365.42,406.87 365.40,405.20 C365.38,403.53 365.18,401.70 365.00,400.00 C364.82,398.30 364.48,396.87 364.30,395.00 C364.12,393.13 363.87,390.80 363.90,388.80 C363.93,386.80 364.23,384.92 364.50,383.00 C364.77,381.08 365.26,378.97 365.50,377.30 C365.74,375.63 365.87,374.43 365.95,373.00 C366.03,371.57 365.99,369.42 366.00,368.70 Z"/></clipPath>
<path d="M366.60,368.70 C366.61,369.42 366.57,371.57 366.65,373.00 C366.73,374.43 366.86,375.63 367.10,377.30 C367.34,378.97 367.83,381.08 368.10,383.00 C368.37,384.92 368.67,386.80 368.70,388.80 C368.73,390.80 368.48,393.13 368.30,395.00 C368.12,396.87 367.78,398.30 367.60,400.00 C367.42,401.70 367.22,403.53 367.20,405.20 C367.18,406.87 367.35,408.37 367.50,410.00 C367.65,411.63 367.67,412.97 368.10,415.00 C368.53,417.03 369.25,419.80 370.10,422.20 C370.95,424.60 372.10,427.00 373.20,429.40 C374.30,431.80 375.38,434.20 376.70,436.60 C378.02,439.00 380.00,442.07 381.10,443.80 C382.20,445.53 382.53,445.97 383.30,447.00 C384.07,448.03 384.62,448.92 385.70,450.00 C386.78,451.08 388.20,452.35 389.80,453.50 C391.40,454.65 393.58,455.75 395.30,456.90 C397.02,458.05 398.72,459.25 400.10,460.40 C401.48,461.55 402.67,462.65 403.60,463.80 C404.53,464.95 405.27,466.15 405.70,467.30 C406.13,468.45 406.27,469.55 406.20,470.70 C406.13,471.85 405.73,473.05 405.30,474.20 C404.87,475.35 404.35,476.45 403.60,477.60 C402.85,478.75 401.78,479.93 400.80,481.10 C399.82,482.27 398.75,483.45 397.70,484.60 C396.65,485.75 396.07,486.55 394.50,488.00 C392.93,489.45 390.20,491.62 388.30,493.30 C386.40,494.98 384.93,496.48 383.10,498.10 C381.27,499.72 379.13,501.40 377.30,503.00 C375.47,504.60 373.52,506.37 372.10,507.70 C370.68,509.03 369.70,510.03 368.80,511.00 C367.90,511.97 367.05,513.08 366.70,513.50 L365.90,513.50 C365.55,513.08 364.70,511.97 363.80,511.00 C362.90,510.03 361.92,509.03 360.50,507.70 C359.08,506.37 357.13,504.60 355.30,503.00 C353.47,501.40 351.33,499.72 349.50,498.10 C347.67,496.48 346.20,494.98 344.30,493.30 C342.40,491.62 339.67,489.45 338.10,488.00 C336.53,486.55 335.95,485.75 334.90,484.60 C333.85,483.45 332.78,482.27 331.80,481.10 C330.82,479.93 329.75,478.75 329.00,477.60 C328.25,476.45 327.73,475.35 327.30,474.20 C326.87,473.05 326.47,471.85 326.40,470.70 C326.33,469.55 326.47,468.45 326.90,467.30 C327.33,466.15 328.07,464.95 329.00,463.80 C329.93,462.65 331.12,461.55 332.50,460.40 C333.88,459.25 335.58,458.05 337.30,456.90 C339.02,455.75 341.20,454.65 342.80,453.50 C344.40,452.35 345.82,451.08 346.90,450.00 C347.98,448.92 348.53,448.03 349.30,447.00 C350.07,445.97 350.40,445.53 351.50,443.80 C352.60,442.07 354.58,439.00 355.90,436.60 C357.22,434.20 358.30,431.80 359.40,429.40 C360.50,427.00 361.65,424.60 362.50,422.20 C363.35,419.80 364.07,417.03 364.50,415.00 C364.93,412.97 364.95,411.63 365.10,410.00 C365.25,408.37 365.42,406.87 365.40,405.20 C365.38,403.53 365.18,401.70 365.00,400.00 C364.82,398.30 364.48,396.87 364.30,395.00 C364.12,393.13 363.87,390.80 363.90,388.80 C363.93,386.80 364.23,384.92 364.50,383.00 C364.77,381.08 365.26,378.97 365.50,377.30 C365.74,375.63 365.87,374.43 365.95,373.00 C366.03,371.57 365.99,369.42 366.00,368.70 Z" fill="#f8d8d0" stroke="none"/>
<rect x="333.5" y="459.2" width="66.30" height="23.90" fill="#e38b80"/>
<rect x="333.5" y="459.2" width="66.30" height="23.90" fill="#df7a6b" clip-path="url(#vc7)"/>
<line x1="366.3" y1="434" x2="366.3" y2="459.2" stroke="#c0283a" stroke-width="1.3"/>
<line x1="366.3" y1="483.1" x2="366.3" y2="499" stroke="#c0283a" stroke-width="1.3"/>
<line x1="333.5" y1="470.2" x2="399.8" y2="470.2" stroke="#c8142e" stroke-width="2"/>
<path d="M366.60,368.70 C366.61,369.42 366.57,371.57 366.65,373.00 C366.73,374.43 366.86,375.63 367.10,377.30 C367.34,378.97 367.83,381.08 368.10,383.00 C368.37,384.92 368.67,386.80 368.70,388.80 C368.73,390.80 368.48,393.13 368.30,395.00 C368.12,396.87 367.78,398.30 367.60,400.00 C367.42,401.70 367.22,403.53 367.20,405.20 C367.18,406.87 367.35,408.37 367.50,410.00 C367.65,411.63 367.67,412.97 368.10,415.00 C368.53,417.03 369.25,419.80 370.10,422.20 C370.95,424.60 372.10,427.00 373.20,429.40 C374.30,431.80 375.38,434.20 376.70,436.60 C378.02,439.00 380.00,442.07 381.10,443.80 C382.20,445.53 382.53,445.97 383.30,447.00 C384.07,448.03 384.62,448.92 385.70,450.00 C386.78,451.08 388.20,452.35 389.80,453.50 C391.40,454.65 393.58,455.75 395.30,456.90 C397.02,458.05 398.72,459.25 400.10,460.40 C401.48,461.55 402.67,462.65 403.60,463.80 C404.53,464.95 405.27,466.15 405.70,467.30 C406.13,468.45 406.27,469.55 406.20,470.70 C406.13,471.85 405.73,473.05 405.30,474.20 C404.87,475.35 404.35,476.45 403.60,477.60 C402.85,478.75 401.78,479.93 400.80,481.10 C399.82,482.27 398.75,483.45 397.70,484.60 C396.65,485.75 396.07,486.55 394.50,488.00 C392.93,489.45 390.20,491.62 388.30,493.30 C386.40,494.98 384.93,496.48 383.10,498.10 C381.27,499.72 379.13,501.40 377.30,503.00 C375.47,504.60 373.52,506.37 372.10,507.70 C370.68,509.03 369.70,510.03 368.80,511.00 C367.90,511.97 367.05,513.08 366.70,513.50 L365.90,513.50 C365.55,513.08 364.70,511.97 363.80,511.00 C362.90,510.03 361.92,509.03 360.50,507.70 C359.08,506.37 357.13,504.60 355.30,503.00 C353.47,501.40 351.33,499.72 349.50,498.10 C347.67,496.48 346.20,494.98 344.30,493.30 C342.40,491.62 339.67,489.45 338.10,488.00 C336.53,486.55 335.95,485.75 334.90,484.60 C333.85,483.45 332.78,482.27 331.80,481.10 C330.82,479.93 329.75,478.75 329.00,477.60 C328.25,476.45 327.73,475.35 327.30,474.20 C326.87,473.05 326.47,471.85 326.40,470.70 C326.33,469.55 326.47,468.45 326.90,467.30 C327.33,466.15 328.07,464.95 329.00,463.80 C329.93,462.65 331.12,461.55 332.50,460.40 C333.88,459.25 335.58,458.05 337.30,456.90 C339.02,455.75 341.20,454.65 342.80,453.50 C344.40,452.35 345.82,451.08 346.90,450.00 C347.98,448.92 348.53,448.03 349.30,447.00 C350.07,445.97 350.40,445.53 351.50,443.80 C352.60,442.07 354.58,439.00 355.90,436.60 C357.22,434.20 358.30,431.80 359.40,429.40 C360.50,427.00 361.65,424.60 362.50,422.20 C363.35,419.80 364.07,417.03 364.50,415.00 C364.93,412.97 364.95,411.63 365.10,410.00 C365.25,408.37 365.42,406.87 365.40,405.20 C365.38,403.53 365.18,401.70 365.00,400.00 C364.82,398.30 364.48,396.87 364.30,395.00 C364.12,393.13 363.87,390.80 363.90,388.80 C363.93,386.80 364.23,384.92 364.50,383.00 C364.77,381.08 365.26,378.97 365.50,377.30 C365.74,375.63 365.87,374.43 365.95,373.00 C366.03,371.57 365.99,369.42 366.00,368.70 Z" fill="none" stroke="#a0112e" stroke-width="1.5" stroke-linejoin="round"/>
<line x1="366.3" y1="513.5" x2="366.3" y2="523" stroke="#a0112e" stroke-width="1.5"/>
<circle cx="366.2" cy="390.8" r="1.7" fill="none" stroke="#c8142e" stroke-width="0.9"/>
<circle cx="366.2" cy="420.6" r="1.7" fill="none" stroke="#c8142e" stroke-width="0.9"/>
<circle cx="348.8" cy="391.2" r="1.6" fill="#6a1626" stroke="#3f0610" stroke-width="0.85"/>
<circle cx="383.1" cy="420.6" r="1.6" fill="#6a1626" stroke="#3f0610" stroke-width="0.85"/>
<circle cx="362.3" cy="433.1" r="1.6" fill="#6a1626" stroke="#3f0610" stroke-width="0.85"/>
<circle cx="363.3" cy="437.9" r="1.6" fill="#6a1626" stroke="#3f0610" stroke-width="0.85"/>
<circle cx="350.4" cy="439.4" r="1.6" fill="#6a1626" stroke="#3f0610" stroke-width="0.85"/>
<circle cx="366.2" cy="446.2" r="1.6" fill="#6a1626" stroke="#3f0610" stroke-width="0.85"/>
<circle cx="352.3" cy="447.5" r="1.6" fill="#6a1626" stroke="#3f0610" stroke-width="0.85"/>
<circle cx="381.2" cy="448.8" r="1.6" fill="#6a1626" stroke="#3f0610" stroke-width="0.85"/>
<circle cx="352.3" cy="455.8" r="1.6" fill="#6a1626" stroke="#3f0610" stroke-width="0.85"/>
<circle cx="358.1" cy="457.3" r="1.6" fill="#6a1626" stroke="#3f0610" stroke-width="0.85"/>
<circle cx="371.0" cy="453.5" r="1.6" fill="#6a1626" stroke="#3f0610" stroke-width="0.85"/>
<circle cx="368.1" cy="458.1" r="1.6" fill="#6a1626" stroke="#3f0610" stroke-width="0.85"/>
<circle cx="349.2" cy="463.8" r="1.6" fill="#6a1626" stroke="#3f0610" stroke-width="0.85"/>
<circle cx="351.2" cy="461.9" r="1.6" fill="#6a1626" stroke="#3f0610" stroke-width="0.85"/>
<circle cx="353.7" cy="462.5" r="1.6" fill="#6a1626" stroke="#3f0610" stroke-width="0.85"/>
<circle cx="358.5" cy="463.1" r="1.6" fill="#6a1626" stroke="#3f0610" stroke-width="0.85"/>
<circle cx="364.6" cy="465.8" r="1.6" fill="#6a1626" stroke="#3f0610" stroke-width="0.85"/>
<circle cx="371.0" cy="461.9" r="1.6" fill="#6a1626" stroke="#3f0610" stroke-width="0.85"/>
<circle cx="375.4" cy="463.5" r="1.6" fill="#6a1626" stroke="#3f0610" stroke-width="0.85"/>
<circle cx="352.3" cy="468.3" r="1.6" fill="#6a1626" stroke="#3f0610" stroke-width="0.85"/>
<circle cx="358.5" cy="469.6" r="1.6" fill="#6a1626" stroke="#3f0610" stroke-width="0.85"/>
<circle cx="368.1" cy="470.2" r="1.6" fill="#6a1626" stroke="#3f0610" stroke-width="0.85"/>
<circle cx="373.8" cy="469.2" r="1.6" fill="#6a1626" stroke="#3f0610" stroke-width="0.85"/>
<circle cx="380.0" cy="468.8" r="1.6" fill="#6a1626" stroke="#3f0610" stroke-width="0.85"/>
<circle cx="381.2" cy="470.2" r="1.6" fill="#6a1626" stroke="#3f0610" stroke-width="0.85"/>
<circle cx="366.2" cy="472.1" r="1.6" fill="#6a1626" stroke="#3f0610" stroke-width="0.85"/>
<circle cx="365.8" cy="473.5" r="1.6" fill="#6a1626" stroke="#3f0610" stroke-width="0.85"/>
<circle cx="370.4" cy="474.6" r="1.6" fill="#6a1626" stroke="#3f0610" stroke-width="0.85"/>
<circle cx="378.1" cy="474.6" r="1.6" fill="#6a1626" stroke="#3f0610" stroke-width="0.85"/>
<circle cx="348.5" cy="475.4" r="1.6" fill="#6a1626" stroke="#3f0610" stroke-width="0.85"/>
<circle cx="351.7" cy="479.8" r="1.6" fill="#6a1626" stroke="#3f0610" stroke-width="0.85"/>
<circle cx="350.8" cy="481.7" r="1.6" fill="#6a1626" stroke="#3f0610" stroke-width="0.85"/>
<circle cx="348.5" cy="483.1" r="1.6" fill="#6a1626" stroke="#3f0610" stroke-width="0.85"/>
<circle cx="360.0" cy="479.2" r="1.6" fill="#6a1626" stroke="#3f0610" stroke-width="0.85"/>
<circle cx="361.9" cy="478.5" r="1.6" fill="#6a1626" stroke="#3f0610" stroke-width="0.85"/>
<circle cx="359.4" cy="482.3" r="1.6" fill="#6a1626" stroke="#3f0610" stroke-width="0.85"/>
<circle cx="360.0" cy="483.7" r="1.6" fill="#6a1626" stroke="#3f0610" stroke-width="0.85"/>
<circle cx="382.5" cy="483.7" r="1.6" fill="#6a1626" stroke="#3f0610" stroke-width="0.85"/>
<circle cx="383.5" cy="486.5" r="1.6" fill="#6a1626" stroke="#3f0610" stroke-width="0.85"/>
<circle cx="361.9" cy="488.1" r="1.6" fill="#6a1626" stroke="#3f0610" stroke-width="0.85"/>
<circle cx="351.7" cy="492.7" r="1.6" fill="#6a1626" stroke="#3f0610" stroke-width="0.85"/>
<circle cx="361.9" cy="492.7" r="1.6" fill="#6a1626" stroke="#3f0610" stroke-width="0.85"/>
<circle cx="360.8" cy="494.6" r="1.6" fill="#6a1626" stroke="#3f0610" stroke-width="0.85"/>
<circle cx="381.5" cy="491.3" r="1.6" fill="#6a1626" stroke="#3f0610" stroke-width="0.85"/>
<circle cx="369.0" cy="499.0" r="1.6" fill="#6a1626" stroke="#3f0610" stroke-width="0.85"/>
<circle cx="378.7" cy="498.5" r="1.6" fill="#6a1626" stroke="#3f0610" stroke-width="0.85"/>
<circle cx="381.9" cy="500.4" r="1.6" fill="#6a1626" stroke="#3f0610" stroke-width="0.85"/>
<clipPath id="vc8"><path d="M455.90,386.90 C456.05,387.50 456.28,389.22 456.80,390.50 C457.32,391.78 458.07,393.27 459.00,394.60 C459.93,395.93 461.20,397.22 462.40,398.50 C463.60,399.78 465.03,401.05 466.20,402.30 C467.37,403.55 468.45,404.72 469.40,406.00 C470.35,407.28 471.03,408.53 471.90,410.00 C472.77,411.47 473.62,413.20 474.60,414.80 C475.58,416.40 477.07,417.62 477.80,419.60 C478.53,421.58 479.10,424.38 479.00,426.70 C478.90,429.02 478.13,431.25 477.20,433.50 C476.27,435.75 474.33,437.97 473.40,440.20 C472.47,442.43 471.70,445.23 471.60,446.90 C471.50,448.57 472.27,449.08 472.80,450.20 C473.33,451.32 474.00,452.47 474.80,453.60 C475.60,454.73 476.65,455.87 477.60,457.00 C478.55,458.13 479.40,458.72 480.50,460.40 C481.60,462.08 483.38,465.42 484.20,467.10 C485.02,468.78 485.28,469.38 485.40,470.50 C485.52,471.62 485.23,472.77 484.90,473.80 C484.57,474.83 484.07,475.67 483.40,476.70 C482.73,477.73 481.83,478.87 480.90,480.00 C479.97,481.13 478.80,482.33 477.80,483.50 C476.80,484.67 475.85,485.88 474.90,487.00 C473.95,488.12 473.03,489.12 472.10,490.20 C471.17,491.28 470.20,492.38 469.30,493.50 C468.40,494.62 467.55,495.78 466.70,496.90 C465.85,498.02 464.98,499.08 464.20,500.20 C463.42,501.32 462.68,502.47 462.00,503.60 C461.32,504.73 460.68,505.87 460.10,507.00 C459.52,508.13 458.98,509.23 458.50,510.40 C458.02,511.57 457.55,512.88 457.20,514.00 C456.85,515.12 456.62,516.10 456.40,517.10 C456.18,518.10 455.98,519.52 455.90,520.00 L455.30,520.00 C455.22,519.52 455.02,518.10 454.80,517.10 C454.58,516.10 454.35,515.12 454.00,514.00 C453.65,512.88 453.18,511.57 452.70,510.40 C452.22,509.23 451.68,508.13 451.10,507.00 C450.52,505.87 449.88,504.73 449.20,503.60 C448.52,502.47 447.78,501.32 447.00,500.20 C446.22,499.08 445.35,498.02 444.50,496.90 C443.65,495.78 442.80,494.62 441.90,493.50 C441.00,492.38 440.03,491.28 439.10,490.20 C438.17,489.12 437.25,488.12 436.30,487.00 C435.35,485.88 434.40,484.67 433.40,483.50 C432.40,482.33 431.23,481.13 430.30,480.00 C429.37,478.87 428.47,477.73 427.80,476.70 C427.13,475.67 426.63,474.83 426.30,473.80 C425.97,472.77 425.68,471.62 425.80,470.50 C425.92,469.38 426.18,468.78 427.00,467.10 C427.82,465.42 429.60,462.08 430.70,460.40 C431.80,458.72 432.65,458.13 433.60,457.00 C434.55,455.87 435.60,454.73 436.40,453.60 C437.20,452.47 437.87,451.32 438.40,450.20 C438.93,449.08 439.70,448.57 439.60,446.90 C439.50,445.23 438.73,442.43 437.80,440.20 C436.87,437.97 434.93,435.75 434.00,433.50 C433.07,431.25 432.30,429.02 432.20,426.70 C432.10,424.38 432.67,421.58 433.40,419.60 C434.13,417.62 435.62,416.40 436.60,414.80 C437.58,413.20 438.43,411.47 439.30,410.00 C440.17,408.53 440.85,407.28 441.80,406.00 C442.75,404.72 443.83,403.55 445.00,402.30 C446.17,401.05 447.60,399.78 448.80,398.50 C450.00,397.22 451.27,395.93 452.20,394.60 C453.13,393.27 453.88,391.78 454.40,390.50 C454.92,389.22 455.15,387.50 455.30,386.90 Z"/></clipPath>
<path d="M455.90,386.90 C456.05,387.50 456.28,389.22 456.80,390.50 C457.32,391.78 458.07,393.27 459.00,394.60 C459.93,395.93 461.20,397.22 462.40,398.50 C463.60,399.78 465.03,401.05 466.20,402.30 C467.37,403.55 468.45,404.72 469.40,406.00 C470.35,407.28 471.03,408.53 471.90,410.00 C472.77,411.47 473.62,413.20 474.60,414.80 C475.58,416.40 477.07,417.62 477.80,419.60 C478.53,421.58 479.10,424.38 479.00,426.70 C478.90,429.02 478.13,431.25 477.20,433.50 C476.27,435.75 474.33,437.97 473.40,440.20 C472.47,442.43 471.70,445.23 471.60,446.90 C471.50,448.57 472.27,449.08 472.80,450.20 C473.33,451.32 474.00,452.47 474.80,453.60 C475.60,454.73 476.65,455.87 477.60,457.00 C478.55,458.13 479.40,458.72 480.50,460.40 C481.60,462.08 483.38,465.42 484.20,467.10 C485.02,468.78 485.28,469.38 485.40,470.50 C485.52,471.62 485.23,472.77 484.90,473.80 C484.57,474.83 484.07,475.67 483.40,476.70 C482.73,477.73 481.83,478.87 480.90,480.00 C479.97,481.13 478.80,482.33 477.80,483.50 C476.80,484.67 475.85,485.88 474.90,487.00 C473.95,488.12 473.03,489.12 472.10,490.20 C471.17,491.28 470.20,492.38 469.30,493.50 C468.40,494.62 467.55,495.78 466.70,496.90 C465.85,498.02 464.98,499.08 464.20,500.20 C463.42,501.32 462.68,502.47 462.00,503.60 C461.32,504.73 460.68,505.87 460.10,507.00 C459.52,508.13 458.98,509.23 458.50,510.40 C458.02,511.57 457.55,512.88 457.20,514.00 C456.85,515.12 456.62,516.10 456.40,517.10 C456.18,518.10 455.98,519.52 455.90,520.00 L455.30,520.00 C455.22,519.52 455.02,518.10 454.80,517.10 C454.58,516.10 454.35,515.12 454.00,514.00 C453.65,512.88 453.18,511.57 452.70,510.40 C452.22,509.23 451.68,508.13 451.10,507.00 C450.52,505.87 449.88,504.73 449.20,503.60 C448.52,502.47 447.78,501.32 447.00,500.20 C446.22,499.08 445.35,498.02 444.50,496.90 C443.65,495.78 442.80,494.62 441.90,493.50 C441.00,492.38 440.03,491.28 439.10,490.20 C438.17,489.12 437.25,488.12 436.30,487.00 C435.35,485.88 434.40,484.67 433.40,483.50 C432.40,482.33 431.23,481.13 430.30,480.00 C429.37,478.87 428.47,477.73 427.80,476.70 C427.13,475.67 426.63,474.83 426.30,473.80 C425.97,472.77 425.68,471.62 425.80,470.50 C425.92,469.38 426.18,468.78 427.00,467.10 C427.82,465.42 429.60,462.08 430.70,460.40 C431.80,458.72 432.65,458.13 433.60,457.00 C434.55,455.87 435.60,454.73 436.40,453.60 C437.20,452.47 437.87,451.32 438.40,450.20 C438.93,449.08 439.70,448.57 439.60,446.90 C439.50,445.23 438.73,442.43 437.80,440.20 C436.87,437.97 434.93,435.75 434.00,433.50 C433.07,431.25 432.30,429.02 432.20,426.70 C432.10,424.38 432.67,421.58 433.40,419.60 C434.13,417.62 435.62,416.40 436.60,414.80 C437.58,413.20 438.43,411.47 439.30,410.00 C440.17,408.53 440.85,407.28 441.80,406.00 C442.75,404.72 443.83,403.55 445.00,402.30 C446.17,401.05 447.60,399.78 448.80,398.50 C450.00,397.22 451.27,395.93 452.20,394.60 C453.13,393.27 453.88,391.78 454.40,390.50 C454.92,389.22 455.15,387.50 455.30,386.90 Z" fill="#d4d6e4" stroke="none"/>
<rect x="422.5" y="430.2" width="66.00" height="43.50" fill="#8d97ba"/>
<rect x="422.5" y="430.2" width="66.00" height="43.50" fill="#7b83ab" clip-path="url(#vc8)"/>
<line x1="455.6" y1="413.8" x2="455.6" y2="430.2" stroke="#243e68" stroke-width="1.3"/>
<line x1="455.6" y1="473.7" x2="455.6" y2="497.3" stroke="#243e68" stroke-width="1.3"/>
<line x1="422.5" y1="465.0" x2="488.5" y2="465.0" stroke="#1d4d74" stroke-width="2"/>
<path d="M455.90,386.90 C456.05,387.50 456.28,389.22 456.80,390.50 C457.32,391.78 458.07,393.27 459.00,394.60 C459.93,395.93 461.20,397.22 462.40,398.50 C463.60,399.78 465.03,401.05 466.20,402.30 C467.37,403.55 468.45,404.72 469.40,406.00 C470.35,407.28 471.03,408.53 471.90,410.00 C472.77,411.47 473.62,413.20 474.60,414.80 C475.58,416.40 477.07,417.62 477.80,419.60 C478.53,421.58 479.10,424.38 479.00,426.70 C478.90,429.02 478.13,431.25 477.20,433.50 C476.27,435.75 474.33,437.97 473.40,440.20 C472.47,442.43 471.70,445.23 471.60,446.90 C471.50,448.57 472.27,449.08 472.80,450.20 C473.33,451.32 474.00,452.47 474.80,453.60 C475.60,454.73 476.65,455.87 477.60,457.00 C478.55,458.13 479.40,458.72 480.50,460.40 C481.60,462.08 483.38,465.42 484.20,467.10 C485.02,468.78 485.28,469.38 485.40,470.50 C485.52,471.62 485.23,472.77 484.90,473.80 C484.57,474.83 484.07,475.67 483.40,476.70 C482.73,477.73 481.83,478.87 480.90,480.00 C479.97,481.13 478.80,482.33 477.80,483.50 C476.80,484.67 475.85,485.88 474.90,487.00 C473.95,488.12 473.03,489.12 472.10,490.20 C471.17,491.28 470.20,492.38 469.30,493.50 C468.40,494.62 467.55,495.78 466.70,496.90 C465.85,498.02 464.98,499.08 464.20,500.20 C463.42,501.32 462.68,502.47 462.00,503.60 C461.32,504.73 460.68,505.87 460.10,507.00 C459.52,508.13 458.98,509.23 458.50,510.40 C458.02,511.57 457.55,512.88 457.20,514.00 C456.85,515.12 456.62,516.10 456.40,517.10 C456.18,518.10 455.98,519.52 455.90,520.00 L455.30,520.00 C455.22,519.52 455.02,518.10 454.80,517.10 C454.58,516.10 454.35,515.12 454.00,514.00 C453.65,512.88 453.18,511.57 452.70,510.40 C452.22,509.23 451.68,508.13 451.10,507.00 C450.52,505.87 449.88,504.73 449.20,503.60 C448.52,502.47 447.78,501.32 447.00,500.20 C446.22,499.08 445.35,498.02 444.50,496.90 C443.65,495.78 442.80,494.62 441.90,493.50 C441.00,492.38 440.03,491.28 439.10,490.20 C438.17,489.12 437.25,488.12 436.30,487.00 C435.35,485.88 434.40,484.67 433.40,483.50 C432.40,482.33 431.23,481.13 430.30,480.00 C429.37,478.87 428.47,477.73 427.80,476.70 C427.13,475.67 426.63,474.83 426.30,473.80 C425.97,472.77 425.68,471.62 425.80,470.50 C425.92,469.38 426.18,468.78 427.00,467.10 C427.82,465.42 429.60,462.08 430.70,460.40 C431.80,458.72 432.65,458.13 433.60,457.00 C434.55,455.87 435.60,454.73 436.40,453.60 C437.20,452.47 437.87,451.32 438.40,450.20 C438.93,449.08 439.70,448.57 439.60,446.90 C439.50,445.23 438.73,442.43 437.80,440.20 C436.87,437.97 434.93,435.75 434.00,433.50 C433.07,431.25 432.30,429.02 432.20,426.70 C432.10,424.38 432.67,421.58 433.40,419.60 C434.13,417.62 435.62,416.40 436.60,414.80 C437.58,413.20 438.43,411.47 439.30,410.00 C440.17,408.53 440.85,407.28 441.80,406.00 C442.75,404.72 443.83,403.55 445.00,402.30 C446.17,401.05 447.60,399.78 448.80,398.50 C450.00,397.22 451.27,395.93 452.20,394.60 C453.13,393.27 453.88,391.78 454.40,390.50 C454.92,389.22 455.15,387.50 455.30,386.90 Z" fill="none" stroke="#243e68" stroke-width="1.5" stroke-linejoin="round"/>
<line x1="455.6" y1="374.4" x2="455.6" y2="386.9" stroke="#243e68" stroke-width="1.5"/>
<line x1="455.6" y1="520" x2="455.6" y2="538" stroke="#243e68" stroke-width="1.5"/>
<circle cx="448.1" cy="413.8" r="1.6" fill="#2a3658" stroke="#141d36" stroke-width="0.85"/>
<circle cx="439.2" cy="423.5" r="1.6" fill="#2a3658" stroke="#141d36" stroke-width="0.85"/>
<circle cx="448.8" cy="429.6" r="1.6" fill="#2a3658" stroke="#141d36" stroke-width="0.85"/>
<circle cx="468.7" cy="423.5" r="1.6" fill="#2a3658" stroke="#141d36" stroke-width="0.85"/>
<circle cx="471.5" cy="422.5" r="1.6" fill="#2a3658" stroke="#141d36" stroke-width="0.85"/>
<circle cx="451.9" cy="436.5" r="1.6" fill="#2a3658" stroke="#141d36" stroke-width="0.85"/>
<circle cx="469.6" cy="433.1" r="1.6" fill="#2a3658" stroke="#141d36" stroke-width="0.85"/>
<circle cx="450.0" cy="465.0" r="1.6" fill="#2a3658" stroke="#141d36" stroke-width="0.85"/>
<circle cx="461.5" cy="464.6" r="1.6" fill="#2a3658" stroke="#141d36" stroke-width="0.85"/>
<circle cx="471.2" cy="463.1" r="1.6" fill="#2a3658" stroke="#141d36" stroke-width="0.85"/>
<circle cx="470.6" cy="467.3" r="1.6" fill="#2a3658" stroke="#141d36" stroke-width="0.85"/>
<circle cx="471.9" cy="468.5" r="1.6" fill="#2a3658" stroke="#141d36" stroke-width="0.85"/>
<circle cx="443.7" cy="475.6" r="1.6" fill="#2a3658" stroke="#141d36" stroke-width="0.85"/>
<circle cx="455.8" cy="474.6" r="1.6" fill="#2a3658" stroke="#141d36" stroke-width="0.85"/>
<circle cx="458.1" cy="474.2" r="1.6" fill="#2a3658" stroke="#141d36" stroke-width="0.85"/>
<circle cx="461.5" cy="482.3" r="1.6" fill="#2a3658" stroke="#141d36" stroke-width="0.85"/>
<circle cx="468.7" cy="497.7" r="1.6" fill="#2a3658" stroke="#141d36" stroke-width="0.85"/>
<path d="M366.2,364.9 V353.4 H455.4 V364.9" fill="none" stroke="#333" stroke-width="1.8"/>
<text x="411.0" y="352.8" text-anchor="middle" class="ast">*</text>
<g fill="#2a2a2a"><rect x="0" y="0" width="520" height="1.1"/><rect x="0" y="0" width="1.2" height="578"/><rect x="518.6" y="0" width="1.4" height="578"/><rect x="0" y="576.5" width="520" height="1.5"/></g>
</svg>
</body></html>
